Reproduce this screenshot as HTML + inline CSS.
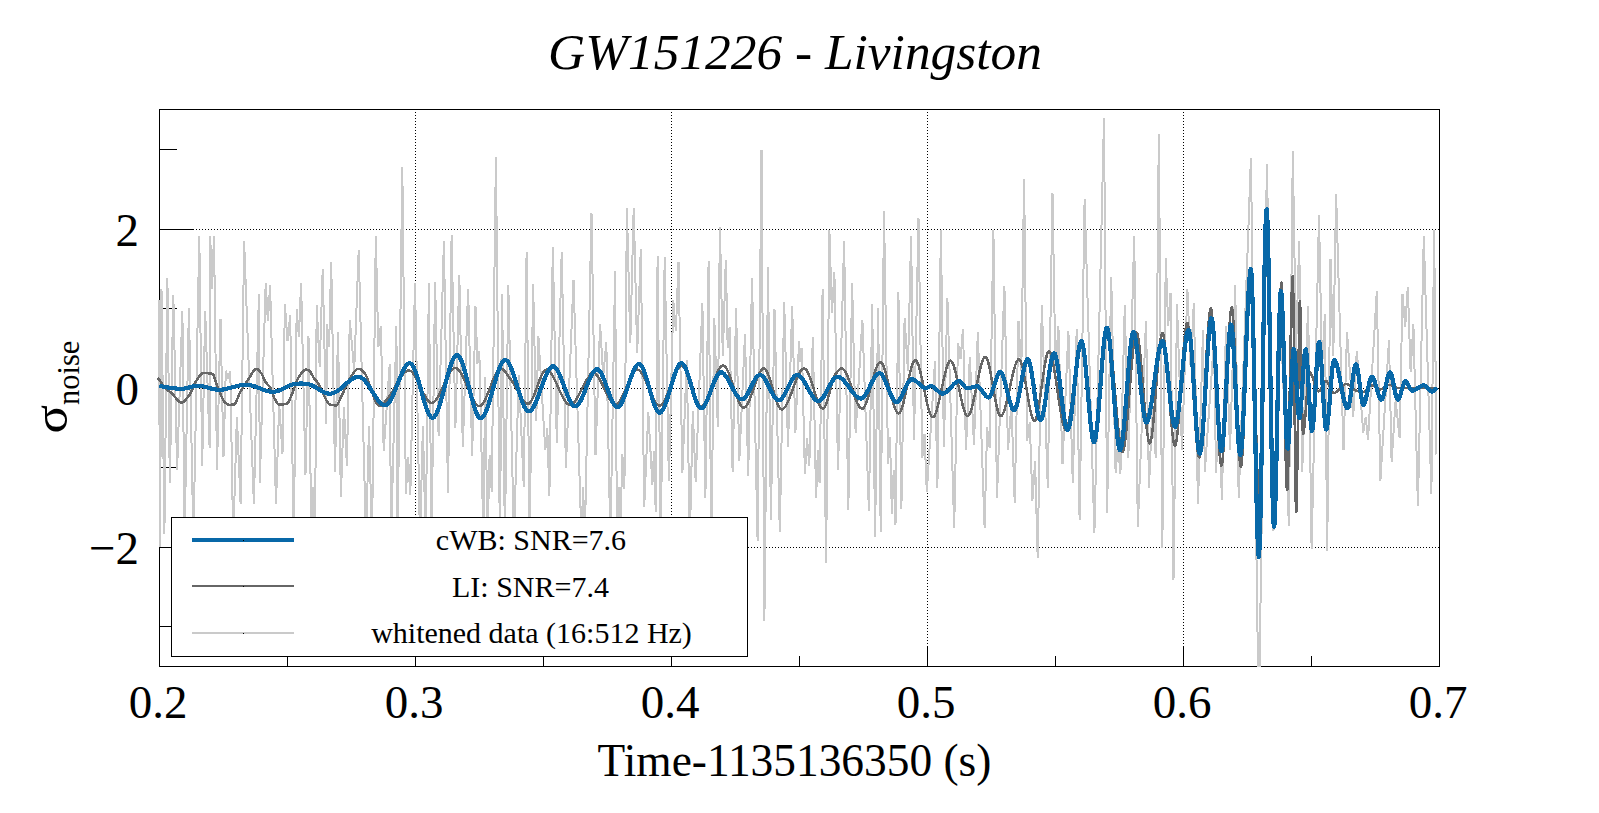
<!DOCTYPE html><html><head><meta charset="utf-8"><title>GW151226 - Livingston</title>
<style>html,body{margin:0;padding:0;background:#fff}svg{display:block}text{font-family:"Liberation Serif",serif;fill:#000}</style></head><body>
<svg width="1599" height="813" viewBox="0 0 1599 813">
<rect width="1599" height="813" fill="#fff"/>
<rect x="159.5" y="109.5" width="1280" height="557" fill="none" stroke="#000" stroke-width="1" shape-rendering="crispEdges"/>
<path d="M159.5,666v-20M415.5,666v-20M671.5,666v-20M927.5,666v-20M1183.5,666v-20M1439.5,666v-20M287.5,666v-10M543.5,666v-10M799.5,666v-10M1055.5,666v-10M1311.5,666v-10M159,547.5h34M159,388.5h34M159,229.5h34M159,626.5h18M159,467.5h18M159,308.5h18M159,149.5h18" stroke="#000" stroke-width="1" fill="none" shape-rendering="crispEdges"/>
<path d="M415.5,112V666M671.5,112V666M927.5,112V666M1183.5,112V666M193,547.5H1439M193,388.5H1439M193,229.5H1439" stroke="#000" stroke-width="1" stroke-dasharray="1 2" fill="none" shape-rendering="crispEdges"/>
<polyline points="159.0,300.0 160.0,546.9 161.5,288.7 164.4,533.6 167.4,278.4 169.8,483.4 173.3,294.6 177.1,470.0 182.4,310.9 184.5,540.0 188.9,307.9 193.4,540.0 199.3,236.2 202.2,465.7 205.2,310.9 209.6,448.0 210.2,236.2 212.1,289.3 214.0,235.6 217.0,470.0 220.5,318.8 223.5,456.8 225.8,370.8 228.1,377.2 230.3,371.4 233.2,540.0 236.9,417.0 240.6,504.0 244.1,241.5 253.9,504.0 258.9,294.0 259.8,483.4 265.7,283.4 267.9,321.2 270.1,285.2 276.0,504.0 279.2,404.5 282.5,453.9 284.9,304.1 287.5,340.7 290.2,315.3 293.7,540.0 296.7,309.4 298.9,336.9 301.1,282.8 305.5,474.5 308.5,336.5 311.5,540.0 313.2,486.8 315.0,540.0 316.7,305.0 319.7,367.2 322.7,268.7 326.2,424.4 327.1,324.1 329.1,346.5 331.2,261.6 335.0,471.6 338.0,332.4 340.9,496.7 343.9,407.4 346.9,465.7 349.8,319.7 354.2,370.9 358.7,249.8 366.0,540.0 369.0,426.0 372.0,540.0 375.8,235.6 378.3,347.4 380.8,325.6 383.7,450.9 389.7,364.0 391.1,540.0 396.4,326.5 397.6,540.0 402.3,167.1 405.9,493.7 408.1,456.7 410.3,495.2 415.0,282.8 420.0,540.0 422.9,426.0 425.7,540.0 428.9,282.8 431.5,540.0 435.1,281.9 438.6,435.5 443.9,240.9 448.0,493.0 451.6,235.0 455.4,428.0 459.3,275.4 462.8,447.0 468.1,288.7 472.2,456.0 475.5,306.4 477.4,363.8 479.3,350.7 483.4,540.0 485.2,377.3 487.5,540.0 489.6,455.3 491.7,491.5 495.9,157.4 499.9,540.0 502.1,294.0 504.9,540.0 508.3,285.2 513.9,540.0 518.8,374.9 523.8,487.4 526.6,251.8 529.6,540.0 533.1,283.7 536.2,421.4 538.4,336.5 545.3,450.3 547.3,428.5 549.4,495.6 552.8,246.8 556.8,442.9 561.7,251.8 565.9,467.6 573.5,279.9 581.5,540.0 583.1,486.8 584.8,540.0 591.5,212.6 595.5,455.2 600.1,324.1 603.2,376.5 606.3,341.9 610.4,540.0 615.1,271.0 617.0,540.0 618.6,486.8 620.3,540.0 622.3,453.6 624.4,489.0 626.9,208.4 630.3,343.1 633.7,207.6 637.2,353.2 640.8,248.9 644.2,507.2 648.3,412.2 652.4,485.0 654.0,451.1 655.7,512.1 657.6,255.7 660.7,540.0 664.7,256.8 668.9,480.8 673.3,300.5 675.9,331.1 678.5,261.6 682.4,473.0 686.8,360.0 689.8,540.0 692.8,411.5 695.7,482.0 702.4,302.9 705.4,497.6 708.6,260.7 711.3,540.0 714.3,318.2 717.8,427.0 719.9,227.3 722.8,355.9 725.8,259.8 727.7,348.4 729.6,327.0 732.6,471.6 736.1,307.9 739.3,461.0 745.0,334.5 748.2,476.0 752.0,277.8 757.6,541.0 761.5,150.0 764.4,620.7 768.0,267.5 770.9,520.3 774.5,309.4 779.8,532.0 784.2,302.0 788.0,446.5 792.2,306.4 795.4,433.0 799.0,341.3 800.5,361.9 801.9,347.8 804.9,474.0 807.1,438.5 809.3,465.7 812.8,337.4 816.1,497.6 817.9,450.0 819.6,483.4 822.6,288.7 826.1,562.5 829.4,229.7 831.9,312.9 834.4,272.5 838.0,470.0 844.1,240.9 848.3,510.0 852.1,282.8 855.6,433.0 862.4,319.7 868.9,511.4 872.2,304.1 875.1,536.5 878.1,307.9 880.7,532.0 884.0,211.4 888.1,464.0 890.0,437.4 891.9,514.4 893.7,470.2 895.5,524.7 898.4,291.7 901.4,508.5 904.6,318.2 907.9,370.6 911.1,236.5 914.0,440.0 918.5,217.9 922.3,458.3 924.5,433.7 926.8,492.3 935.0,361.0 937.4,487.8 940.9,230.3 943.9,446.5 947.4,297.6 954.2,527.7 958.0,343.3 960.5,358.9 963.0,328.6 966.0,450.0 969.8,356.6 974.0,445.0 977.8,332.4 984.6,527.7 987.1,427.0 989.6,448.0 993.4,230.3 997.0,498.2 1004.4,285.8 1008.0,450.0 1011.4,403.5 1014.7,502.6 1018.5,320.6 1021.3,371.1 1024.1,178.6 1027.1,440.6 1029.8,422.2 1032.4,501.1 1035.1,461.5 1037.7,558.0 1041.8,305.0 1047.8,487.8 1052.5,192.8 1055.5,372.4 1058.4,325.6 1062.5,464.2 1068.4,330.6 1072.8,483.4 1076.7,329.5 1079.6,520.3 1084.6,198.7 1094.4,533.0 1104.0,118.2 1107.1,512.9 1111.2,276.9 1115.6,473.0 1118.0,443.2 1120.4,474.0 1124.8,305.0 1128.3,458.3 1134.2,235.6 1137.8,527.0 1146.0,320.6 1149.0,487.8 1152.4,405.6 1155.8,458.3 1158.8,134.3 1162.3,547.7 1165.8,257.7 1168.2,326.0 1170.5,292.6 1173.5,580.2 1177.0,304.1 1182.0,450.0 1187.4,289.3 1190.6,366.9 1193.8,303.5 1198.0,504.0 1203.0,330.0 1204.8,471.6 1214.0,340.0 1216.0,473.0 1219.0,409.2 1221.9,499.6 1226.0,325.6 1230.0,450.0 1235.2,285.2 1238.7,498.2 1250.9,158.3 1258.0,666.0 1259.6,666.0 1266.9,164.3 1273.5,530.6 1280.0,300.0 1288.9,526.0 1292.8,151.2 1296.0,351.4 1299.2,241.5 1302.2,471.6 1308.1,306.4 1311.6,549.2 1319.0,215.5 1322.0,369.4 1324.9,313.8 1327.2,550.7 1330.5,258.6 1333.3,355.6 1336.1,193.7 1343.5,450.3 1347.0,332.1 1353.2,417.0 1356.8,350.7 1363.3,432.6 1365.7,417.0 1368.0,439.7 1376.8,291.1 1380.4,480.5 1389.0,340.0 1391.6,462.2 1395.6,400.4 1399.6,437.7 1402.5,293.7 1405.2,326.7 1407.8,286.7 1410.6,372.0 1413.4,324.1 1417.9,506.4 1423.8,236.5 1431.4,493.7 1434.1,229.7 1436.5,454.5" fill="none" stroke="#cacaca" stroke-width="2" stroke-linejoin="miter" shape-rendering="crispEdges"/>
<polyline points="157.8,378.0 158.3,378.6 158.8,379.2 159.3,379.8 159.8,380.5 160.3,381.2 160.8,382.0 161.3,382.8 161.8,383.6 162.3,384.3 162.8,385.1 163.3,385.9 163.8,386.6 164.3,387.2 164.8,387.8 165.3,388.3 165.8,388.7 166.3,389.1 166.8,389.5 167.3,389.9 167.8,390.2 168.3,390.6 168.8,390.9 169.3,391.2 169.8,391.6 170.3,391.9 170.8,392.3 171.3,392.8 171.8,393.2 172.3,393.8 172.8,394.3 173.3,394.9 173.8,395.5 174.3,396.2 174.8,396.8 175.3,397.4 175.8,398.1 176.3,398.7 176.8,399.3 177.3,399.9 177.8,400.4 178.3,400.9 178.8,401.4 179.3,401.8 179.8,402.1 180.3,402.3 180.8,402.5 181.3,402.6 181.8,402.6 182.3,402.5 182.8,402.3 183.3,402.0 183.8,401.6 184.3,401.2 184.8,400.7 185.3,400.2 185.8,399.6 186.3,399.0 186.8,398.4 187.3,397.7 187.8,397.1 188.3,396.4 188.8,395.8 189.3,395.1 189.8,394.3 190.3,393.4 190.8,392.5 191.3,391.4 191.8,390.3 192.3,389.2 192.8,388.0 193.3,386.8 193.8,385.7 194.3,384.6 194.8,383.5 195.3,382.5 195.8,381.6 196.3,380.8 196.8,380.1 197.3,379.3 197.8,378.6 198.3,377.8 198.8,377.1 199.3,376.4 199.8,375.7 200.3,375.0 200.8,374.5 201.3,374.0 201.8,373.6 202.3,373.3 202.8,373.1 203.3,373.0 203.8,373.0 204.3,373.0 204.8,373.0 205.3,373.0 205.8,373.1 206.3,373.1 206.8,373.1 207.3,373.1 207.8,373.2 208.3,373.2 208.8,373.3 209.3,373.3 209.8,373.4 210.3,373.5 210.8,373.5 211.3,373.6 211.8,373.7 212.3,373.8 212.8,374.1 213.3,374.8 213.8,375.8 214.3,377.1 214.8,378.5 215.3,380.0 215.8,381.6 216.3,383.2 216.8,384.7 217.3,386.0 217.8,387.2 218.3,388.4 218.8,389.6 219.3,390.9 219.8,392.1 220.3,393.4 220.8,394.7 221.3,395.9 221.8,397.0 222.3,398.1 222.8,399.1 223.3,400.1 223.8,400.9 224.3,401.6 224.8,402.1 225.3,402.6 225.8,403.0 226.3,403.4 226.8,403.7 227.3,404.1 227.8,404.3 228.3,404.6 228.8,404.7 229.3,404.8 229.8,404.8 230.3,404.8 230.8,404.8 231.3,404.7 231.8,404.7 232.3,404.7 232.8,404.6 233.3,404.6 233.8,404.5 234.3,404.4 234.8,404.0 235.3,403.3 235.8,402.5 236.3,401.4 236.8,400.2 237.3,399.0 237.8,397.7 238.3,396.3 238.8,395.1 239.3,393.9 239.8,392.9 240.3,392.0 240.8,391.1 241.3,390.2 241.8,389.4 242.3,388.6 242.8,387.8 243.3,387.0 243.8,386.2 244.3,385.4 244.8,384.6 245.3,383.9 245.8,383.1 246.3,382.4 246.8,381.7 247.3,380.9 247.8,380.2 248.3,379.4 248.8,378.6 249.3,377.8 249.8,376.9 250.3,376.1 250.8,375.2 251.3,374.4 251.8,373.5 252.3,372.7 252.8,372.0 253.3,371.3 253.8,370.6 254.3,370.1 254.8,369.6 255.3,369.2 255.8,369.0 256.3,368.8 256.8,368.8 257.3,369.0 257.8,369.3 258.3,369.7 258.8,370.2 259.3,370.8 259.8,371.4 260.3,372.1 260.8,372.7 261.3,373.4 261.8,374.2 262.3,375.2 262.8,376.3 263.3,377.4 263.8,378.5 264.3,379.6 264.8,380.6 265.3,381.5 265.8,382.3 266.3,382.9 266.8,383.5 267.3,384.1 267.8,384.6 268.3,385.1 268.8,385.7 269.3,386.3 269.8,387.0 270.3,387.8 270.8,388.9 271.3,390.1 271.8,391.4 272.3,392.8 272.8,394.2 273.3,395.6 273.8,396.8 274.3,397.9 274.8,398.9 275.3,399.8 275.8,400.7 276.3,401.7 276.8,402.5 277.3,403.3 277.8,403.9 278.3,404.4 278.8,404.6 279.3,404.6 279.8,404.6 280.3,404.6 280.8,404.6 281.3,404.5 281.8,404.5 282.3,404.4 282.8,404.4 283.3,404.3 283.8,404.3 284.3,404.2 284.8,404.1 285.3,404.0 285.8,404.0 286.3,403.9 286.8,403.7 287.3,403.4 287.8,402.9 288.3,402.2 288.8,401.3 289.3,400.3 289.8,399.2 290.3,398.0 290.8,396.8 291.3,395.5 291.8,394.3 292.3,393.2 292.8,392.1 293.3,390.9 293.8,389.6 294.3,388.2 294.8,386.8 295.3,385.4 295.8,383.9 296.3,382.6 296.8,381.2 297.3,380.0 297.8,378.9 298.3,378.0 298.8,377.2 299.3,376.5 299.8,375.7 300.3,375.0 300.8,374.2 301.3,373.5 301.8,372.9 302.3,372.3 302.8,371.7 303.3,371.2 303.8,370.7 304.3,370.3 304.8,370.0 305.3,369.8 305.8,369.7 306.3,369.7 306.8,369.8 307.3,369.9 307.8,370.0 308.3,370.2 308.8,370.4 309.3,370.7 309.8,371.1 310.3,371.8 310.8,372.6 311.3,373.4 311.8,374.4 312.3,375.3 312.8,376.2 313.3,377.1 313.8,377.8 314.3,378.5 314.8,379.1 315.3,379.7 315.8,380.3 316.3,381.0 316.8,381.6 317.3,382.3 317.8,383.0 318.3,383.8 318.8,384.7 319.3,385.7 319.8,386.7 320.3,387.8 320.8,388.9 321.3,389.9 321.8,391.0 322.3,391.9 322.8,392.9 323.3,393.8 323.8,394.8 324.3,395.9 324.8,396.9 325.3,397.9 325.8,399.0 326.3,399.9 326.8,400.9 327.3,401.7 327.8,402.5 328.3,403.2 328.8,403.8 329.3,404.2 329.8,404.5 330.3,404.6 330.8,404.7 331.3,404.8 331.8,404.9 332.3,405.0 332.8,405.1 333.3,405.1 333.8,405.2 334.3,405.2 334.8,405.3 335.3,405.3 335.8,405.3 336.3,405.3 336.8,405.0 337.3,404.6 337.8,403.9 338.3,403.1 338.8,402.1 339.3,401.0 339.8,399.9 340.3,398.7 340.8,397.6 341.3,396.5 341.8,395.4 342.3,394.4 342.8,393.4 343.3,392.3 343.8,391.2 344.3,390.1 344.8,388.9 345.3,387.8 345.8,386.6 346.3,385.5 346.8,384.3 347.3,383.3 347.8,382.2 348.3,381.2 348.8,380.3 349.3,379.5 349.8,378.7 350.3,377.9 350.8,377.2 351.3,376.4 351.8,375.6 352.3,374.8 352.8,374.1 353.3,373.3 353.8,372.6 354.3,372.0 354.8,371.3 355.3,370.8 355.8,370.3 356.3,369.8 356.8,369.4 357.3,369.1 357.8,368.9 358.3,368.8 358.8,368.8 359.3,368.9 359.8,369.0 360.3,369.2 360.8,369.5 361.3,369.9 361.8,370.2 362.3,370.7 362.8,371.1 363.3,371.6 363.8,372.1 364.3,372.7 364.8,373.2 365.3,374.0 365.8,374.9 366.3,376.0 366.8,377.3 367.3,378.6 367.8,380.0 368.3,381.5 368.8,383.0 369.3,384.4 369.8,385.9 370.3,387.2 370.8,388.5 371.3,389.8 371.8,391.3 372.3,392.7 372.8,394.2 373.3,395.6 373.8,397.1 374.3,398.4 374.8,399.7 375.3,400.8 375.8,401.8 376.3,402.6 376.8,403.2 377.3,403.8 377.8,404.4 378.3,404.9 378.8,405.3 379.3,405.7 379.8,405.9 380.3,406.0 380.8,406.0 381.3,405.8 381.8,405.5 382.3,405.1 382.8,404.6 383.3,404.0 383.8,403.4 384.3,402.8 384.8,402.1 385.3,401.5 385.8,400.9 386.3,400.4 386.8,399.8 387.3,399.2 387.8,398.6 388.3,397.9 388.8,397.2 389.3,396.5 389.8,395.7 390.3,394.9 390.8,394.1 391.3,393.3 391.8,392.5 392.3,391.6 392.8,390.8 393.3,389.9 393.8,389.0 394.3,388.1 394.8,387.2 395.3,386.4 395.8,385.5 396.3,384.6 396.8,383.7 397.3,382.8 397.8,382.0 398.3,381.2 398.8,380.3 399.3,379.5 399.8,378.7 400.3,378.0 400.8,377.2 401.3,376.5 401.8,375.8 402.3,375.2 402.8,374.5 403.3,373.9 403.8,373.4 404.3,372.9 404.8,372.4 405.3,372.0 405.8,371.6 406.3,371.3 406.8,371.0 407.3,370.8 407.8,370.6 408.3,370.5 408.8,370.5 409.3,370.5 409.8,370.6 410.3,370.9 410.8,371.1 411.3,371.5 411.8,371.9 412.3,372.4 412.8,373.0 413.3,373.7 413.8,374.3 414.3,375.1 414.8,375.9 415.3,376.7 415.8,377.6 416.3,378.5 416.8,379.5 417.3,380.5 417.8,381.5 418.3,382.5 418.8,383.5 419.3,384.6 419.8,385.6 420.3,386.7 420.8,387.8 421.3,388.8 421.8,389.9 422.3,390.9 422.8,391.9 423.3,392.9 423.8,393.9 424.3,394.9 424.8,395.8 425.3,396.7 425.8,397.5 426.3,398.3 426.8,399.1 427.3,399.7 427.8,400.4 428.3,401.0 428.8,401.5 429.3,401.9 429.8,402.3 430.3,402.5 430.8,402.8 431.3,402.9 431.8,402.9 432.3,402.8 432.8,402.7 433.3,402.4 433.8,402.1 434.3,401.7 434.8,401.2 435.3,400.7 435.8,400.1 436.3,399.4 436.8,398.7 437.3,397.9 437.8,397.1 438.3,396.2 438.8,395.3 439.3,394.3 439.8,393.4 440.3,392.3 440.8,391.3 441.3,390.2 441.8,389.2 442.3,388.1 442.8,387.0 443.3,385.8 443.8,384.7 444.3,383.6 444.8,382.5 445.3,381.4 445.8,380.3 446.3,379.3 446.8,378.3 447.3,377.2 447.8,376.3 448.3,375.3 448.8,374.4 449.3,373.5 449.8,372.7 450.3,371.9 450.8,371.2 451.3,370.6 451.8,370.0 452.3,369.5 452.8,369.0 453.3,368.6 453.8,368.3 454.3,368.1 454.8,367.9 455.3,367.9 455.8,367.9 456.3,368.1 456.8,368.3 457.3,368.6 457.8,369.0 458.3,369.5 458.8,370.1 459.3,370.7 459.8,371.4 460.3,372.1 460.8,372.9 461.3,373.8 461.8,374.7 462.3,375.6 462.8,376.6 463.3,377.7 463.8,378.7 464.3,379.8 464.8,380.9 465.3,382.1 465.8,383.2 466.3,384.4 466.8,385.6 467.3,386.8 467.8,387.9 468.3,389.1 468.8,390.3 469.3,391.5 469.8,392.6 470.3,393.7 470.8,394.8 471.3,395.9 471.8,397.0 472.3,398.0 472.8,398.9 473.3,399.9 473.8,400.7 474.3,401.6 474.8,402.3 475.3,403.0 475.8,403.7 476.3,404.3 476.8,404.8 477.3,405.2 477.8,405.6 478.3,405.8 478.8,406.0 479.3,406.1 479.8,406.1 480.3,405.9 480.8,405.7 481.3,405.3 481.8,404.9 482.3,404.3 482.8,403.7 483.3,403.0 483.8,402.2 484.3,401.3 484.8,400.3 485.3,399.3 485.8,398.2 486.3,397.1 486.8,396.0 487.3,394.8 487.8,393.5 488.3,392.3 488.8,391.0 489.3,389.7 489.8,388.4 490.3,387.1 490.8,385.7 491.3,384.4 491.8,383.2 492.3,381.9 492.8,380.6 493.3,379.4 493.8,378.2 494.3,377.1 494.8,376.0 495.3,375.0 495.8,374.0 496.3,373.1 496.8,372.3 497.3,371.5 497.8,370.8 498.3,370.2 498.8,369.7 499.3,369.3 499.8,369.0 500.3,368.9 500.8,368.8 501.3,368.8 501.8,369.0 502.3,369.2 502.8,369.5 503.3,369.9 503.8,370.4 504.3,370.9 504.8,371.4 505.3,372.0 505.8,372.6 506.3,373.3 506.8,374.0 507.3,374.7 507.8,375.4 508.3,376.1 508.8,376.8 509.3,377.5 509.8,378.1 510.3,378.8 510.8,379.4 511.3,380.0 511.8,380.7 512.3,381.5 512.8,382.2 513.3,383.1 513.8,383.9 514.3,384.8 514.8,385.7 515.3,386.6 515.8,387.5 516.3,388.5 516.8,389.4 517.3,390.3 517.8,391.3 518.3,392.2 518.8,393.2 519.3,394.1 519.8,395.0 520.3,395.9 520.8,396.7 521.3,397.6 521.8,398.4 522.3,399.1 522.8,399.8 523.3,400.5 523.8,401.1 524.3,401.7 524.8,402.2 525.3,402.6 525.8,403.0 526.3,403.3 526.8,403.6 527.3,403.7 527.8,403.8 528.3,403.8 528.8,403.6 529.3,403.3 529.8,402.9 530.3,402.3 530.8,401.6 531.3,400.9 531.8,400.0 532.3,399.0 532.8,398.0 533.3,396.9 533.8,395.7 534.3,394.5 534.8,393.2 535.3,391.9 535.8,390.5 536.3,389.1 536.8,387.7 537.3,386.3 537.8,384.9 538.3,383.6 538.8,382.2 539.3,380.9 539.8,379.6 540.3,378.3 540.8,377.1 541.3,375.9 541.8,374.9 542.3,373.9 542.8,373.0 543.3,372.1 543.8,371.4 544.3,370.8 544.8,370.3 545.3,370.0 545.8,369.8 546.3,369.7 546.8,369.7 547.3,369.9 547.8,370.1 548.3,370.4 548.8,370.8 549.3,371.3 549.8,371.8 550.3,372.4 550.8,373.0 551.3,373.8 551.8,374.5 552.3,375.3 552.8,376.2 553.3,377.1 553.8,378.1 554.3,379.1 554.8,380.1 555.3,381.1 555.8,382.2 556.3,383.3 556.8,384.3 557.3,385.5 557.8,386.6 558.3,387.7 558.8,388.8 559.3,389.9 559.8,391.0 560.3,392.1 560.8,393.2 561.3,394.2 561.8,395.2 562.3,396.2 562.8,397.2 563.3,398.1 563.8,399.0 564.3,399.9 564.8,400.6 565.3,401.4 565.8,402.1 566.3,402.7 566.8,403.2 567.3,403.7 567.8,404.1 568.3,404.5 568.8,404.7 569.3,404.9 569.8,405.0 570.3,405.0 570.8,404.9 571.3,404.7 571.8,404.5 572.3,404.1 572.8,403.7 573.3,403.3 573.8,402.7 574.3,402.1 574.8,401.5 575.3,400.8 575.8,400.1 576.3,399.3 576.8,398.5 577.3,397.6 577.8,396.7 578.3,395.8 578.8,394.8 579.3,393.9 579.8,392.9 580.3,391.9 580.8,390.9 581.3,389.9 581.8,388.9 582.3,387.9 582.8,386.9 583.3,385.9 583.8,385.0 584.3,384.0 584.8,383.1 585.3,382.2 585.8,381.3 586.3,380.5 586.8,379.7 587.3,379.0 587.8,378.3 588.3,377.6 588.8,376.8 589.3,376.0 589.8,375.2 590.3,374.5 590.8,373.7 591.3,373.1 591.8,372.7 592.3,372.4 592.8,372.3 593.3,372.4 593.8,372.5 594.3,372.8 594.8,373.1 595.3,373.5 595.8,373.9 596.3,374.5 596.8,375.1 597.3,375.7 597.8,376.4 598.3,377.2 598.8,378.0 599.3,378.9 599.8,379.8 600.3,380.7 600.8,381.7 601.3,382.7 601.8,383.7 602.3,384.7 602.8,385.7 603.3,386.8 603.8,387.9 604.3,388.9 604.8,390.0 605.3,391.0 605.8,392.1 606.3,393.1 606.8,394.1 607.3,395.1 607.8,396.1 608.3,397.0 608.8,398.0 609.3,398.8 609.8,399.6 610.3,400.4 610.8,401.1 611.3,401.8 611.8,402.4 612.3,403.0 612.8,403.4 613.3,403.9 613.8,404.2 614.3,404.4 614.8,404.6 615.3,404.7 615.8,404.7 616.3,404.6 616.8,404.3 617.3,404.0 617.8,403.6 618.3,403.1 618.8,402.6 619.3,401.9 619.8,401.2 620.3,400.4 620.8,399.5 621.3,398.6 621.8,397.7 622.3,396.7 622.8,395.6 623.3,394.5 623.8,393.4 624.3,392.3 624.8,391.1 625.3,389.9 625.8,388.8 626.3,387.6 626.8,386.4 627.3,385.2 627.8,384.0 628.3,382.8 628.8,381.7 629.3,380.5 629.8,379.4 630.3,378.4 630.8,377.3 631.3,376.3 631.8,375.4 632.3,374.5 632.8,373.7 633.3,372.9 633.8,372.2 634.3,371.6 634.8,371.1 635.3,370.6 635.8,370.2 636.3,370.0 636.8,369.8 637.3,369.7 637.8,369.7 638.3,369.9 638.8,370.1 639.3,370.4 639.8,370.9 640.3,371.4 640.8,372.0 641.3,372.6 641.8,373.4 642.3,374.2 642.8,375.0 643.3,376.0 643.8,376.9 644.3,377.9 644.8,379.0 645.3,380.1 645.8,381.2 646.3,382.4 646.8,383.6 647.3,384.8 647.8,386.0 648.3,387.2 648.8,388.4 649.3,389.6 649.8,390.8 650.3,392.0 650.8,393.1 651.3,394.3 651.8,395.4 652.3,396.5 652.8,397.6 653.3,398.6 653.8,399.5 654.3,400.4 654.8,401.3 655.3,402.1 655.8,402.8 656.3,403.5 656.8,404.0 657.3,404.5 657.8,404.9 658.3,405.2 658.8,405.5 659.3,405.6 659.8,405.6 660.3,405.5 660.8,405.3 661.3,404.9 661.8,404.5 662.3,404.0 662.8,403.3 663.3,402.6 663.8,401.8 664.3,400.9 664.8,400.0 665.3,399.0 665.8,397.9 666.3,396.8 666.8,395.6 667.3,394.4 667.8,393.2 668.3,391.9 668.8,390.6 669.3,389.3 669.8,387.9 670.3,386.6 670.8,385.2 671.3,383.9 671.8,382.5 672.3,381.2 672.8,379.9 673.3,378.6 673.8,377.4 674.3,376.2 674.8,375.0 675.3,373.9 675.8,372.8 676.3,371.8 676.8,370.9 677.3,370.0 677.8,369.2 678.3,368.5 678.8,367.8 679.3,367.3 679.8,366.9 680.3,366.5 680.8,366.3 681.3,366.2 681.8,366.2 682.3,366.4 682.8,366.7 683.3,367.2 683.8,367.7 684.3,368.4 684.8,369.2 685.3,370.1 685.8,371.2 686.3,372.2 686.8,373.4 687.3,374.7 687.8,376.0 688.3,377.3 688.8,378.8 689.3,380.2 689.8,381.7 690.3,383.2 690.8,384.7 691.3,386.3 691.8,387.8 692.3,389.3 692.8,390.8 693.3,392.3 693.8,393.7 694.3,395.1 694.8,396.5 695.3,397.8 695.8,399.0 696.3,400.2 696.8,401.3 697.3,402.2 697.8,403.1 698.3,403.9 698.8,404.6 699.3,405.1 699.8,405.6 700.3,405.8 700.8,406.0 701.3,406.0 701.8,405.8 702.3,405.6 702.8,405.2 703.3,404.8 703.8,404.2 704.3,403.6 704.8,402.9 705.3,402.0 705.8,401.2 706.3,400.2 706.8,399.2 707.3,398.1 707.8,397.0 708.3,395.8 708.8,394.5 709.3,393.3 709.8,392.0 710.3,390.7 710.8,389.3 711.3,388.0 711.8,386.6 712.3,385.3 712.8,383.9 713.3,382.5 713.8,381.2 714.3,379.9 714.8,378.6 715.3,377.3 715.8,376.1 716.3,374.9 716.8,373.7 717.3,372.6 717.8,371.6 718.3,370.6 718.8,369.7 719.3,368.9 719.8,368.2 720.3,367.5 720.8,366.9 721.3,366.4 721.8,366.1 722.3,365.8 722.8,365.6 723.3,365.6 723.8,365.7 724.3,366.0 724.8,366.3 725.3,366.8 725.8,367.5 726.3,368.2 726.8,369.0 727.3,370.0 727.8,371.0 728.3,372.1 728.8,373.3 729.3,374.6 729.8,375.9 730.3,377.3 730.8,378.7 731.3,380.1 731.8,381.6 732.3,383.1 732.8,384.7 733.3,386.2 733.8,387.7 734.3,389.3 734.8,390.8 735.3,392.3 735.8,393.8 736.3,395.2 736.8,396.6 737.3,398.0 737.8,399.2 738.3,400.5 738.8,401.6 739.3,402.7 739.8,403.7 740.3,404.6 740.8,405.4 741.3,406.1 741.8,406.7 742.3,407.1 742.8,407.5 743.3,407.7 743.8,407.7 744.3,407.6 744.8,407.4 745.3,407.0 745.8,406.5 746.3,405.9 746.8,405.2 747.3,404.4 747.8,403.5 748.3,402.5 748.8,401.4 749.3,400.2 749.8,399.0 750.3,397.8 750.8,396.5 751.3,395.1 751.8,393.7 752.3,392.3 752.8,390.8 753.3,389.4 753.8,387.9 754.3,386.4 754.8,385.0 755.3,383.5 755.8,382.1 756.3,380.7 756.8,379.4 757.3,378.1 757.8,376.8 758.3,375.6 758.8,374.5 759.3,373.4 759.8,372.4 760.3,371.6 760.8,370.8 761.3,370.1 761.8,369.5 762.3,369.0 762.8,368.7 763.3,368.5 763.8,368.4 764.3,368.5 764.8,368.8 765.3,369.2 765.8,369.8 766.3,370.6 766.8,371.5 767.3,372.5 767.8,373.6 768.3,374.9 768.8,376.2 769.3,377.6 769.8,379.1 770.3,380.7 770.8,382.3 771.3,384.0 771.8,385.6 772.3,387.4 772.8,389.1 773.3,390.8 773.8,392.5 774.3,394.2 774.8,395.8 775.3,397.4 775.8,399.0 776.3,400.5 776.8,401.9 777.3,403.2 777.8,404.4 778.3,405.5 778.8,406.5 779.3,407.4 779.8,408.1 780.3,408.7 780.8,409.1 781.3,409.3 781.8,409.4 782.3,409.3 782.8,409.1 783.3,408.8 783.8,408.4 784.3,407.9 784.8,407.3 785.3,406.6 785.8,405.8 786.3,404.9 786.8,404.0 787.3,403.0 787.8,401.9 788.3,400.8 788.8,399.7 789.3,398.4 789.8,397.2 790.3,395.9 790.8,394.6 791.3,393.3 791.8,391.9 792.3,390.5 792.8,389.2 793.3,387.8 793.8,386.4 794.3,385.1 794.8,383.7 795.3,382.4 795.8,381.1 796.3,379.9 796.8,378.6 797.3,377.4 797.8,376.3 798.3,375.2 798.8,374.2 799.3,373.2 799.8,372.4 800.3,371.5 800.8,370.8 801.3,370.2 801.8,369.6 802.3,369.2 802.8,368.8 803.3,368.6 803.8,368.4 804.3,368.4 804.8,368.6 805.3,368.9 805.8,369.3 806.3,369.9 806.8,370.6 807.3,371.5 807.8,372.4 808.3,373.5 808.8,374.6 809.3,375.9 809.8,377.2 810.3,378.6 810.8,380.0 811.3,381.5 811.8,383.0 812.3,384.6 812.8,386.2 813.3,387.8 813.8,389.3 814.3,390.9 814.8,392.5 815.3,394.1 815.8,395.6 816.3,397.1 816.8,398.5 817.3,399.9 817.8,401.2 818.3,402.5 818.8,403.6 819.3,404.7 819.8,405.6 820.3,406.5 820.8,407.2 821.3,407.8 821.8,408.2 822.3,408.5 822.8,408.7 823.3,408.7 823.8,408.4 824.3,407.8 824.8,407.1 825.3,406.1 825.8,405.0 826.3,403.6 826.8,402.2 827.3,400.6 827.8,398.9 828.3,397.1 828.8,395.3 829.3,393.4 829.8,391.5 830.3,389.6 830.8,387.7 831.3,385.8 831.8,384.0 832.3,382.2 832.8,380.6 833.3,379.0 833.8,377.6 834.3,376.4 834.8,375.3 835.3,374.4 835.8,373.7 836.3,373.1 836.8,372.4 837.3,371.8 837.8,371.2 838.3,370.6 838.8,370.1 839.3,369.6 839.8,369.2 840.3,368.8 840.8,368.6 841.3,368.4 841.8,368.4 842.3,368.5 842.8,368.7 843.3,369.1 843.8,369.6 844.3,370.2 844.8,370.9 845.3,371.7 845.8,372.6 846.3,373.6 846.8,374.6 847.3,375.8 847.8,377.0 848.3,378.2 848.8,379.6 849.3,380.9 849.8,382.3 850.3,383.7 850.8,385.2 851.3,386.6 851.8,388.1 852.3,389.6 852.8,391.1 853.3,392.5 853.8,393.9 854.3,395.4 854.8,396.7 855.3,398.1 855.8,399.4 856.3,400.6 856.8,401.8 857.3,402.9 857.8,403.9 858.3,404.9 858.8,405.7 859.3,406.5 859.8,407.2 860.3,407.7 860.8,408.2 861.3,408.5 861.8,408.7 862.3,408.7 862.8,408.5 863.3,408.2 863.8,407.7 864.3,407.0 864.8,406.1 865.3,405.1 865.8,403.9 866.3,402.6 866.8,401.2 867.3,399.7 867.8,398.1 868.3,396.4 868.8,394.6 869.3,392.8 869.8,391.0 870.3,389.1 870.8,387.1 871.3,385.2 871.8,383.3 872.3,381.4 872.8,379.5 873.3,377.6 873.8,375.8 874.3,374.1 874.8,372.4 875.3,370.8 875.8,369.3 876.3,367.9 876.8,366.7 877.3,365.5 877.8,364.5 878.3,363.7 878.8,363.0 879.3,362.5 879.8,362.2 880.3,362.1 880.8,362.2 881.3,362.5 881.8,363.1 882.3,363.8 882.8,364.7 883.3,365.8 883.8,367.0 884.3,368.4 884.8,369.9 885.3,371.5 885.8,373.2 886.3,375.0 886.8,376.9 887.3,378.9 887.8,380.9 888.3,382.9 888.8,385.0 889.3,387.1 889.8,389.2 890.3,391.3 890.8,393.4 891.3,395.4 891.8,397.4 892.3,399.3 892.8,401.2 893.3,403.0 893.8,404.7 894.3,406.2 894.8,407.7 895.3,409.0 895.8,410.2 896.3,411.2 896.8,412.0 897.3,412.7 897.8,413.1 898.3,413.4 898.8,413.4 899.3,413.1 899.8,412.6 900.3,411.9 900.8,410.9 901.3,409.7 901.8,408.3 902.3,406.7 902.8,405.0 903.3,403.2 903.8,401.2 904.3,399.1 904.8,396.9 905.3,394.7 905.8,392.3 906.3,390.0 906.8,387.6 907.3,385.2 907.8,382.9 908.3,380.5 908.8,378.2 909.3,376.0 909.8,373.9 910.3,371.8 910.8,369.9 911.3,368.1 911.8,366.4 912.3,364.9 912.8,363.6 913.3,362.5 913.8,361.6 914.3,360.9 914.8,360.5 915.3,360.4 915.8,360.5 916.3,360.9 916.8,361.6 917.3,362.5 917.8,363.5 918.3,364.8 918.8,366.3 919.3,367.9 919.8,369.7 920.3,371.7 920.8,373.7 921.3,375.9 921.8,378.1 922.3,380.4 922.8,382.8 923.3,385.2 923.8,387.6 924.3,390.0 924.8,392.4 925.3,394.8 925.8,397.2 926.3,399.5 926.8,401.7 927.3,403.9 927.8,405.9 928.3,407.9 928.8,409.7 929.3,411.3 929.8,412.8 930.3,414.1 930.8,415.1 931.3,416.0 931.8,416.7 932.3,417.1 932.8,417.2 933.3,417.1 933.8,416.7 934.3,416.1 934.8,415.2 935.3,414.1 935.8,412.9 936.3,411.4 936.8,409.8 937.3,408.1 937.8,406.2 938.3,404.2 938.8,402.1 939.3,399.9 939.8,397.7 940.3,395.4 940.8,393.0 941.3,390.6 941.8,388.2 942.3,385.8 942.8,383.5 943.3,381.1 943.8,378.9 944.3,376.6 944.8,374.5 945.3,372.5 945.8,370.5 946.3,368.7 946.8,367.1 947.3,365.6 947.8,364.2 948.3,363.1 948.8,362.2 949.3,361.4 949.8,361.0 950.3,360.7 950.8,360.8 951.3,361.1 951.8,361.6 952.3,362.4 952.8,363.4 953.3,364.7 953.8,366.1 954.3,367.7 954.8,369.5 955.3,371.4 955.8,373.4 956.3,375.5 956.8,377.7 957.3,380.0 957.8,382.4 958.3,384.8 958.8,387.2 959.3,389.7 959.8,392.1 960.3,394.5 960.8,396.9 961.3,399.2 961.8,401.4 962.3,403.5 962.8,405.5 963.3,407.4 963.8,409.2 964.3,410.8 964.8,412.2 965.3,413.5 965.8,414.5 966.3,415.3 966.8,415.8 967.3,416.1 967.8,416.2 968.3,415.9 968.8,415.4 969.3,414.7 969.8,413.7 970.3,412.5 970.8,411.1 971.3,409.5 971.8,407.8 972.3,405.9 972.8,403.8 973.3,401.7 973.8,399.4 974.3,397.1 974.8,394.7 975.3,392.3 975.8,389.8 976.3,387.3 976.8,384.7 977.3,382.2 977.8,379.8 978.3,377.3 978.8,374.9 979.3,372.6 979.8,370.4 980.3,368.3 980.8,366.4 981.3,364.5 981.8,362.8 982.3,361.3 982.8,360.0 983.3,358.9 983.8,358.0 984.3,357.3 984.8,356.9 985.3,356.8 985.8,357.0 986.3,357.5 986.8,358.4 987.3,359.5 987.8,361.0 988.3,362.7 988.8,364.6 989.3,366.7 989.8,369.1 990.3,371.5 990.8,374.1 991.3,376.8 991.8,379.6 992.3,382.5 992.8,385.3 993.3,388.2 993.8,391.1 994.3,393.9 994.8,396.7 995.3,399.4 995.8,402.0 996.3,404.4 996.8,406.7 997.3,408.8 997.8,410.7 998.3,412.3 998.8,413.7 999.3,414.8 999.8,415.6 1000.3,416.1 1000.8,416.2 1001.3,416.0 1001.8,415.6 1002.3,415.0 1002.8,414.1 1003.3,413.1 1003.8,411.8 1004.3,410.5 1004.8,408.9 1005.3,407.2 1005.8,405.4 1006.3,403.5 1006.8,401.4 1007.3,399.3 1007.8,397.1 1008.3,394.9 1008.8,392.6 1009.3,390.3 1009.8,387.9 1010.3,385.6 1010.8,383.3 1011.3,381.0 1011.8,378.7 1012.3,376.5 1012.8,374.4 1013.3,372.3 1013.8,370.4 1014.3,368.5 1014.8,366.8 1015.3,365.2 1015.8,363.8 1016.3,362.6 1016.8,361.5 1017.3,360.6 1017.8,359.9 1018.3,359.4 1018.8,359.2 1019.3,359.3 1019.8,359.7 1020.3,360.4 1020.8,361.5 1021.3,362.9 1021.8,364.5 1022.3,366.4 1022.8,368.5 1023.3,370.8 1023.8,373.3 1024.3,376.0 1024.8,378.7 1025.3,381.6 1025.8,384.5 1026.3,387.5 1026.8,390.4 1027.3,393.4 1027.8,396.4 1028.3,399.3 1028.8,402.1 1029.3,404.9 1029.8,407.5 1030.3,409.9 1030.8,412.2 1031.3,414.3 1031.8,416.1 1032.3,417.7 1032.8,419.0 1033.3,420.0 1033.8,420.7 1034.3,421.1 1034.8,421.0 1035.3,420.5 1035.8,419.5 1036.3,418.1 1036.8,416.3 1037.3,414.2 1037.8,411.8 1038.3,409.1 1038.8,406.1 1039.3,403.0 1039.8,399.7 1040.3,396.3 1040.8,392.7 1041.3,389.1 1041.8,385.5 1042.3,381.8 1042.8,378.3 1043.3,374.8 1043.8,371.4 1044.3,368.1 1044.8,365.1 1045.3,362.2 1045.8,359.6 1046.3,357.3 1046.8,355.3 1047.3,353.7 1047.8,352.5 1048.3,351.7 1048.8,351.3 1049.3,351.4 1049.8,351.9 1050.3,352.8 1050.8,354.0 1051.3,355.5 1051.8,357.3 1052.3,359.4 1052.8,361.7 1053.3,364.3 1053.8,367.0 1054.3,369.9 1054.8,372.9 1055.3,376.1 1055.8,379.4 1056.3,382.8 1056.8,386.2 1057.3,389.6 1057.8,393.1 1058.3,396.5 1058.8,399.9 1059.3,403.2 1059.8,406.5 1060.3,409.6 1060.8,412.6 1061.3,415.4 1061.8,418.1 1062.3,420.5 1062.8,422.8 1063.3,424.7 1063.8,426.4 1064.3,427.8 1064.8,428.9 1065.3,429.6 1065.8,430.0 1066.3,429.9 1066.8,429.3 1067.3,428.2 1067.8,426.6 1068.3,424.6 1068.8,422.1 1069.3,419.3 1069.8,416.2 1070.3,412.9 1070.8,409.2 1071.3,405.4 1071.8,401.4 1072.3,397.2 1072.8,393.0 1073.3,388.7 1073.8,384.4 1074.3,380.1 1074.8,375.9 1075.3,371.8 1075.8,367.8 1076.3,364.0 1076.8,360.5 1077.3,357.1 1077.8,354.1 1078.3,351.4 1078.8,349.0 1079.3,347.1 1079.8,345.6 1080.3,344.5 1080.8,344.0 1081.3,344.1 1081.8,345.0 1082.3,346.6 1082.8,348.8 1083.3,351.6 1083.8,355.0 1084.3,358.8 1084.8,363.0 1085.3,367.6 1085.8,372.5 1086.3,377.6 1086.8,382.8 1087.3,388.2 1087.8,393.6 1088.3,399.0 1088.8,404.3 1089.3,409.5 1089.8,414.5 1090.3,419.2 1090.8,423.6 1091.3,427.6 1091.8,431.1 1092.3,434.1 1092.8,436.6 1093.3,438.5 1093.8,439.6 1094.3,440.0 1094.8,439.5 1095.3,438.2 1095.8,436.1 1096.3,433.3 1096.8,429.8 1097.3,425.7 1097.8,421.1 1098.3,416.0 1098.8,410.6 1099.3,404.9 1099.8,399.0 1100.3,392.9 1100.8,386.7 1101.3,380.6 1101.8,374.4 1102.3,368.4 1102.8,362.6 1103.3,357.1 1103.8,351.9 1104.3,347.1 1104.8,342.8 1105.3,339.1 1105.8,336.0 1106.3,333.5 1106.8,331.9 1107.3,331.1 1107.8,331.1 1108.3,332.0 1108.8,333.6 1109.3,335.8 1109.8,338.7 1110.3,342.1 1110.8,346.0 1111.3,350.4 1111.8,355.1 1112.3,360.2 1112.8,365.6 1113.3,371.3 1113.8,377.1 1114.3,383.1 1114.8,389.1 1115.3,395.1 1115.8,401.1 1116.3,407.1 1116.8,412.9 1117.3,418.5 1117.8,423.8 1118.3,428.9 1118.8,433.5 1119.3,437.8 1119.8,441.7 1120.3,445.0 1120.8,447.7 1121.3,449.8 1121.8,451.2 1122.3,451.9 1122.8,451.8 1123.3,450.9 1123.8,449.1 1124.3,446.6 1124.8,443.4 1125.3,439.6 1125.8,435.2 1126.3,430.4 1126.8,425.1 1127.3,419.5 1127.8,413.6 1128.3,407.5 1128.8,401.2 1129.3,394.9 1129.8,388.5 1130.3,382.1 1130.8,375.9 1131.3,369.8 1131.8,363.9 1132.3,358.4 1132.8,353.2 1133.3,348.5 1133.8,344.2 1134.3,340.5 1134.8,337.5 1135.3,335.1 1135.8,333.5 1136.3,332.7 1136.8,332.8 1137.3,333.8 1137.8,335.6 1138.3,338.1 1138.8,341.4 1139.3,345.3 1139.8,349.7 1140.3,354.6 1140.8,359.9 1141.3,365.5 1141.8,371.4 1142.3,377.4 1142.8,383.6 1143.3,389.9 1143.8,396.1 1144.3,402.2 1144.8,408.2 1145.3,413.9 1145.8,419.4 1146.3,424.4 1146.8,429.0 1147.3,433.1 1147.8,436.6 1148.3,439.5 1148.8,441.6 1149.3,442.9 1149.8,443.4 1150.3,442.9 1150.8,441.4 1151.3,439.1 1151.8,436.0 1152.3,432.1 1152.8,427.6 1153.3,422.6 1153.8,417.1 1154.3,411.3 1154.8,405.1 1155.3,398.7 1155.8,392.2 1156.3,385.7 1156.8,379.2 1157.3,372.7 1157.8,366.5 1158.3,360.6 1158.8,355.0 1159.3,349.9 1159.8,345.3 1160.3,341.4 1160.8,338.1 1161.3,335.6 1161.8,333.9 1162.3,333.2 1162.8,333.5 1163.3,334.8 1163.8,337.1 1164.3,340.1 1164.8,343.9 1165.3,348.3 1165.8,353.4 1166.3,358.9 1166.8,364.8 1167.3,371.0 1167.8,377.5 1168.3,384.1 1168.8,390.8 1169.3,397.5 1169.8,404.0 1170.3,410.4 1170.8,416.5 1171.3,422.3 1171.8,427.6 1172.3,432.4 1172.8,436.6 1173.3,440.1 1173.8,442.8 1174.3,444.7 1174.8,445.6 1175.3,445.5 1175.8,444.2 1176.3,441.8 1176.8,438.5 1177.3,434.2 1177.8,429.3 1178.3,423.6 1178.8,417.4 1179.3,410.7 1179.8,403.6 1180.3,396.3 1180.8,388.8 1181.3,381.2 1181.8,373.7 1182.3,366.4 1182.8,359.2 1183.3,352.4 1183.8,346.1 1184.3,340.3 1184.8,335.2 1185.3,330.8 1185.8,327.3 1186.3,324.7 1186.8,323.2 1187.3,322.8 1187.8,323.8 1188.3,326.0 1188.8,329.3 1189.3,333.7 1189.8,339.0 1190.3,345.1 1190.8,351.9 1191.3,359.2 1191.8,367.0 1192.3,375.1 1192.8,383.4 1193.3,391.8 1193.8,400.2 1194.3,408.4 1194.8,416.4 1195.3,424.0 1195.8,431.1 1196.3,437.6 1196.8,443.4 1197.3,448.3 1197.8,452.3 1198.3,455.2 1198.8,457.0 1199.3,457.4 1199.8,456.2 1200.3,453.6 1200.8,449.7 1201.3,444.5 1201.8,438.3 1202.3,431.1 1202.8,423.2 1203.3,414.7 1203.8,405.7 1204.3,396.3 1204.8,386.7 1205.3,377.1 1205.8,367.5 1206.3,358.2 1206.8,349.3 1207.3,340.8 1207.8,333.1 1208.3,326.1 1208.8,320.1 1209.3,315.1 1209.8,311.4 1210.3,309.1 1210.8,308.3 1211.3,309.3 1211.8,312.2 1212.3,316.9 1212.8,323.0 1213.3,330.5 1213.8,339.0 1214.3,348.5 1214.8,358.7 1215.3,369.4 1215.8,380.5 1216.3,391.6 1216.8,402.7 1217.3,413.5 1217.8,423.8 1218.3,433.4 1218.8,442.2 1219.3,449.9 1219.8,456.3 1220.3,461.3 1220.8,464.5 1221.3,466.0 1221.8,465.3 1222.3,462.6 1222.8,458.0 1223.3,451.8 1223.8,444.1 1224.3,435.3 1224.8,425.5 1225.3,414.9 1225.8,403.8 1226.3,392.3 1226.8,380.8 1227.3,369.3 1227.8,358.2 1228.3,347.6 1228.8,337.8 1229.3,329.0 1229.8,321.3 1230.3,315.1 1230.8,310.5 1231.3,307.8 1231.8,307.2 1232.3,309.1 1232.8,313.6 1233.3,320.2 1233.8,328.7 1234.3,338.8 1234.8,350.2 1235.3,362.4 1235.8,375.3 1236.3,388.5 1236.8,401.6 1237.3,414.4 1237.8,426.5 1238.3,437.6 1238.8,447.4 1239.3,455.6 1239.8,461.8 1240.3,465.8 1240.8,467.2 1241.3,465.8 1241.8,461.9 1242.3,455.7 1242.8,447.6 1243.3,437.7 1243.8,426.4 1244.3,414.0 1244.8,400.6 1245.3,386.7 1245.8,372.5 1246.3,358.3 1246.8,344.3 1247.3,330.8 1247.8,318.2 1248.3,306.7 1248.8,296.5 1249.3,287.9 1249.8,281.3 1250.3,277.0 1250.8,275.1 1251.3,276.5 1251.8,282.4 1252.3,292.0 1252.8,305.0 1253.3,320.6 1253.8,338.2 1254.3,357.3 1254.8,377.3 1255.3,397.7 1255.8,417.7 1256.3,436.8 1256.8,454.4 1257.3,470.0 1257.8,483.0 1258.3,492.6 1258.8,498.5 1259.3,499.9 1259.8,495.6 1260.3,485.8 1260.8,471.4 1261.3,453.3 1261.8,432.2 1262.3,409.1 1262.8,384.9 1263.3,360.2 1263.8,336.1 1264.3,313.4 1264.8,292.8 1265.3,275.4 1265.8,261.8 1266.3,253.1 1266.8,250.0 1267.3,253.0 1267.8,261.6 1268.3,274.8 1268.8,291.8 1269.3,311.9 1269.8,334.3 1270.3,358.0 1270.8,382.3 1271.3,406.4 1271.8,429.3 1272.3,450.4 1272.8,468.8 1273.3,483.7 1273.8,494.2 1274.3,499.5 1274.8,498.8 1275.3,491.9 1275.8,479.7 1276.3,463.3 1276.8,443.6 1277.3,421.6 1277.8,398.3 1278.3,374.8 1278.8,351.9 1279.3,330.7 1279.8,312.2 1280.3,297.3 1280.8,287.1 1281.3,282.6 1281.8,285.4 1282.3,296.4 1282.8,314.0 1283.3,336.5 1283.8,362.1 1284.3,389.3 1284.8,416.3 1285.3,441.4 1285.8,463.1 1286.3,479.5 1286.8,488.9 1287.3,489.8 1287.8,481.4 1288.3,465.2 1288.8,443.2 1289.3,417.2 1289.8,389.0 1290.3,360.3 1290.8,333.2 1291.3,309.4 1291.8,290.7 1292.3,278.9 1292.8,276.4 1293.3,294.3 1293.8,331.3 1294.3,379.1 1294.8,429.4 1295.3,473.8 1295.8,504.2 1296.3,512.3 1296.8,497.9 1297.3,467.7 1297.8,428.2 1298.3,385.5 1298.8,346.0 1299.3,315.8 1299.8,301.4 1300.3,307.0 1300.8,328.0 1301.3,357.8 1301.8,389.6 1302.3,416.7 1302.8,432.4 1303.3,433.6 1303.8,431.4 1304.3,427.6 1304.8,422.4 1305.3,416.3 1305.8,409.5 1306.3,402.4 1306.8,395.4 1307.3,388.7 1307.8,382.8 1308.3,377.8 1308.8,374.3 1309.3,372.5 1309.8,372.4 1310.3,372.7 1310.8,373.4 1311.3,374.3 1311.8,375.5 1312.3,376.8 1312.8,378.3 1313.3,379.8 1313.8,381.4 1314.3,383.0 1314.8,384.6 1315.3,386.1 1315.8,387.5 1316.3,388.8 1316.8,389.9 1317.3,390.7 1317.8,391.2 1318.3,391.5 1318.8,391.4 1319.3,391.1 1319.8,390.5 1320.3,389.8 1320.8,388.9 1321.3,387.9 1321.8,386.9 1322.3,385.8 1322.8,384.8 1323.3,383.8 1323.8,382.9 1324.3,382.1 1324.8,381.5 1325.3,381.1 1325.8,381.0 1326.3,381.1 1326.8,381.5 1327.3,382.1 1327.8,382.8 1328.3,383.7 1328.8,384.7 1329.3,385.8 1329.8,386.9 1330.3,388.0 1330.8,389.1 1331.3,390.1 1331.8,391.0 1332.3,391.8 1332.8,392.4 1333.3,392.8 1333.8,393.0 1334.3,393.0 1334.8,392.9 1335.3,392.7 1335.8,392.4 1336.3,392.1 1336.8,391.8 1337.3,391.4 1337.8,390.9 1338.3,390.4 1338.8,389.9 1339.3,389.4 1339.8,388.9 1340.3,388.3 1340.8,387.8 1341.3,387.3 1341.8,386.8 1342.3,386.3 1342.8,385.8 1343.3,385.4 1343.8,385.0 1344.3,384.7 1344.8,384.4 1345.3,384.2 1345.8,384.1 1346.3,384.0 1346.8,384.0 1347.3,384.1 1347.8,384.3 1348.3,384.6 1348.8,384.9 1349.3,385.3 1349.8,385.7 1350.3,386.2 1350.8,386.6 1351.3,387.1 1351.8,387.6 1352.3,388.1 1352.8,388.5 1353.3,388.9 1353.8,389.3 1354.3,389.6 1354.8,389.9 1355.3,390.1 1355.8,390.3 1356.3,390.6 1356.8,390.8 1357.3,391.0 1357.8,391.2 1358.3,391.4 1358.8,391.5 1359.3,391.7 1359.8,391.9 1360.3,392.0 1360.8,392.1 1361.3,392.2 1361.8,392.3 1362.3,392.3 1362.8,392.3 1363.3,392.2 1363.8,392.0 1364.3,391.7 1364.8,391.3 1365.3,390.8 1365.8,390.3 1366.3,389.8 1366.8,389.2 1367.3,388.7 1367.8,388.1 1368.3,387.6 1368.8,387.1 1369.3,386.6 1369.8,386.2 1370.3,385.9 1370.8,385.7 1371.3,385.6 1371.8,385.6 1372.3,385.7 1372.8,385.8 1373.3,386.0 1373.8,386.2 1374.3,386.5 1374.8,386.8 1375.3,387.1 1375.8,387.4 1376.3,387.7 1376.8,388.0 1377.3,388.3 1377.8,388.6 1378.3,388.8 1378.8,389.0 1379.3,389.2 1379.8,389.3 1380.3,389.3 1380.8,389.3 1381.3,389.1 1381.8,389.0 1382.3,388.7 1382.8,388.4 1383.3,388.1 1383.8,387.8 1384.3,387.4 1384.8,387.0 1385.3,386.6 1385.8,386.3 1386.3,385.9 1386.8,385.6 1387.3,385.3 1387.8,385.1 1388.3,384.9 1388.8,384.8 1389.3,384.8 1389.8,384.8 1390.3,384.9 1390.8,385.1 1391.3,385.3 1391.8,385.5 1392.3,385.7 1392.8,386.0 1393.3,386.2 1393.8,386.5 1394.3,386.8 1394.8,387.0 1395.3,387.3 1395.8,387.5 1396.3,387.7 1396.8,387.8 1397.3,387.9 1397.8,388.0 1398.3,388.0 1398.8,388.0 1399.3,388.0 1399.8,388.0 1400.3,388.0 1400.8,388.0 1401.3,388.0 1401.8,388.0 1402.3,388.0 1402.8,388.0 1403.3,388.0 1403.8,388.0 1404.3,388.0 1404.8,388.0 1405.3,388.0 1405.8,388.0 1406.3,388.0 1406.8,388.0 1407.3,388.0 1407.8,388.0 1408.3,388.0 1408.8,388.0 1409.3,388.0 1409.8,388.0 1410.3,388.0 1410.8,388.0 1411.3,388.0 1411.8,388.0 1412.3,388.0 1412.8,388.0 1413.3,388.0 1413.8,388.0 1414.3,388.0 1414.8,388.0 1415.3,388.0 1415.8,388.0 1416.3,388.0 1416.8,388.0 1417.3,388.0 1417.8,388.0 1418.3,388.0 1418.8,388.0 1419.3,388.0 1419.8,388.0 1420.3,388.0 1420.8,388.0 1421.3,388.0 1421.8,388.0 1422.3,388.0 1422.8,388.0 1423.3,388.0 1423.8,388.0 1424.3,388.0 1424.8,388.0 1425.3,388.0 1425.8,388.0 1426.3,388.0 1426.8,388.0 1427.3,388.0 1427.8,388.0 1428.3,388.0 1428.8,388.0 1429.3,388.0 1429.8,388.0 1430.3,388.0 1430.8,388.0 1431.3,388.0 1431.8,388.0 1432.3,388.0 1432.8,388.0 1433.3,388.0 1433.8,388.0 1434.3,388.0 1434.8,388.0 1435.3,388.0 1435.8,388.0 1436.3,388.0 1436.8,388.0" fill="none" stroke="#666" stroke-width="2.5" stroke-linejoin="round" shape-rendering="crispEdges"/>
<polyline points="159.3,385.8 159.8,385.9 160.3,386.0 160.8,386.1 161.3,386.2 161.8,386.4 162.3,386.5 162.8,386.6 163.3,386.7 163.8,386.8 164.3,386.9 164.8,387.0 165.3,387.1 165.8,387.1 166.3,387.2 166.8,387.3 167.3,387.4 167.8,387.5 168.3,387.5 168.8,387.6 169.3,387.7 169.8,387.7 170.3,387.8 170.8,387.9 171.3,387.9 171.8,388.0 172.3,388.1 172.8,388.1 173.3,388.2 173.8,388.2 174.3,388.3 174.8,388.4 175.3,388.4 175.8,388.5 176.3,388.5 176.8,388.6 177.3,388.6 177.8,388.6 178.3,388.7 178.8,388.7 179.3,388.7 179.8,388.8 180.3,388.8 180.8,388.8 181.3,388.8 181.8,388.8 182.3,388.8 182.8,388.7 183.3,388.7 183.8,388.6 184.3,388.6 184.8,388.5 185.3,388.4 185.8,388.3 186.3,388.2 186.8,388.1 187.3,387.9 187.8,387.8 188.3,387.7 188.8,387.6 189.3,387.4 189.8,387.3 190.3,387.2 190.8,387.0 191.3,386.9 191.8,386.8 192.3,386.6 192.8,386.5 193.3,386.4 193.8,386.3 194.3,386.2 194.8,386.1 195.3,386.0 195.8,385.9 196.3,385.9 196.8,385.8 197.3,385.8 197.8,385.8 198.3,385.8 198.8,385.8 199.3,385.8 199.8,385.9 200.3,385.9 200.8,386.0 201.3,386.1 201.8,386.1 202.3,386.2 202.8,386.3 203.3,386.4 203.8,386.5 204.3,386.7 204.8,386.8 205.3,386.9 205.8,387.0 206.3,387.2 206.8,387.3 207.3,387.5 207.8,387.6 208.3,387.7 208.8,387.9 209.3,388.0 209.8,388.2 210.3,388.3 210.8,388.4 211.3,388.6 211.8,388.7 212.3,388.8 212.8,389.0 213.3,389.1 213.8,389.2 214.3,389.3 214.8,389.4 215.3,389.5 215.8,389.5 216.3,389.6 216.8,389.7 217.3,389.7 217.8,389.8 218.3,389.8 218.8,389.8 219.3,389.8 219.8,389.8 220.3,389.8 220.8,389.7 221.3,389.7 221.8,389.6 222.3,389.6 222.8,389.5 223.3,389.5 223.8,389.4 224.3,389.3 224.8,389.2 225.3,389.1 225.8,389.0 226.3,388.9 226.8,388.8 227.3,388.7 227.8,388.5 228.3,388.4 228.8,388.3 229.3,388.1 229.8,388.0 230.3,387.9 230.8,387.7 231.3,387.6 231.8,387.4 232.3,387.3 232.8,387.2 233.3,387.0 233.8,386.9 234.3,386.7 234.8,386.6 235.3,386.5 235.8,386.3 236.3,386.2 236.8,386.1 237.3,385.9 237.8,385.8 238.3,385.7 238.8,385.6 239.3,385.5 239.8,385.4 240.3,385.3 240.8,385.2 241.3,385.1 241.8,385.0 242.3,385.0 242.8,384.9 243.3,384.8 243.8,384.8 244.3,384.8 244.8,384.7 245.3,384.7 245.8,384.7 246.3,384.7 246.8,384.7 247.3,384.7 247.8,384.8 248.3,384.8 248.8,384.9 249.3,385.0 249.8,385.1 250.3,385.2 250.8,385.3 251.3,385.4 251.8,385.5 252.3,385.7 252.8,385.8 253.3,386.0 253.8,386.1 254.3,386.3 254.8,386.5 255.3,386.6 255.8,386.8 256.3,387.0 256.8,387.2 257.3,387.4 257.8,387.6 258.3,387.8 258.8,388.0 259.3,388.2 259.8,388.3 260.3,388.5 260.8,388.7 261.3,388.9 261.8,389.1 262.3,389.3 262.8,389.5 263.3,389.7 263.8,389.9 264.3,390.0 264.8,390.2 265.3,390.4 265.8,390.5 266.3,390.7 266.8,390.8 267.3,391.0 267.8,391.1 268.3,391.2 268.8,391.3 269.3,391.4 269.8,391.5 270.3,391.6 270.8,391.7 271.3,391.7 271.8,391.8 272.3,391.8 272.8,391.8 273.3,391.8 273.8,391.8 274.3,391.7 274.8,391.7 275.3,391.6 275.8,391.5 276.3,391.4 276.8,391.2 277.3,391.1 277.8,390.9 278.3,390.8 278.8,390.6 279.3,390.4 279.8,390.2 280.3,389.9 280.8,389.7 281.3,389.5 281.8,389.2 282.3,389.0 282.8,388.7 283.3,388.5 283.8,388.2 284.3,388.0 284.8,387.7 285.3,387.5 285.8,387.2 286.3,387.0 286.8,386.7 287.3,386.5 287.8,386.3 288.3,386.1 288.8,385.8 289.3,385.6 289.8,385.4 290.3,385.3 290.8,385.1 291.3,384.9 291.8,384.8 292.3,384.7 292.8,384.5 293.3,384.4 293.8,384.3 294.3,384.2 294.8,384.1 295.3,384.1 295.8,384.0 296.3,383.9 296.8,383.8 297.3,383.7 297.8,383.7 298.3,383.6 298.8,383.6 299.3,383.5 299.8,383.5 300.3,383.5 300.8,383.5 301.3,383.5 301.8,383.5 302.3,383.6 302.8,383.6 303.3,383.6 303.8,383.7 304.3,383.7 304.8,383.8 305.3,383.8 305.8,383.9 306.3,383.9 306.8,384.0 307.3,384.0 307.8,384.1 308.3,384.2 308.8,384.3 309.3,384.5 309.8,384.6 310.3,384.8 310.8,385.0 311.3,385.2 311.8,385.4 312.3,385.6 312.8,385.9 313.3,386.1 313.8,386.4 314.3,386.7 314.8,386.9 315.3,387.2 315.8,387.5 316.3,387.8 316.8,388.1 317.3,388.4 317.8,388.7 318.3,389.0 318.8,389.3 319.3,389.6 319.8,389.9 320.3,390.2 320.8,390.5 321.3,390.8 321.8,391.1 322.3,391.3 322.8,391.6 323.3,391.8 323.8,392.1 324.3,392.3 324.8,392.5 325.3,392.7 325.8,392.9 326.3,393.1 326.8,393.2 327.3,393.3 327.8,393.5 328.3,393.5 328.8,393.6 329.3,393.7 329.8,393.7 330.3,393.7 330.8,393.7 331.3,393.6 331.8,393.5 332.3,393.4 332.8,393.3 333.3,393.1 333.8,392.9 334.3,392.7 334.8,392.5 335.3,392.2 335.8,391.9 336.3,391.6 336.8,391.3 337.3,391.0 337.8,390.7 338.3,390.3 338.8,389.9 339.3,389.6 339.8,389.2 340.3,388.8 340.8,388.3 341.3,387.9 341.8,387.5 342.3,387.1 342.8,386.6 343.3,386.2 343.8,385.7 344.3,385.3 344.8,384.8 345.3,384.4 345.8,384.0 346.3,383.5 346.8,383.1 347.3,382.7 347.8,382.2 348.3,381.8 348.8,381.4 349.3,381.0 349.8,380.6 350.3,380.3 350.8,379.9 351.3,379.6 351.8,379.2 352.3,378.9 352.8,378.6 353.3,378.3 353.8,378.1 354.3,377.8 354.8,377.6 355.3,377.4 355.8,377.3 356.3,377.1 356.8,377.0 357.3,376.9 357.8,376.8 358.3,376.8 358.8,376.8 359.3,376.9 359.8,377.0 360.3,377.1 360.8,377.4 361.3,377.6 361.8,377.9 362.3,378.3 362.8,378.7 363.3,379.2 363.8,379.6 364.3,380.2 364.8,380.7 365.3,381.3 365.8,381.9 366.3,382.6 366.8,383.3 367.3,384.0 367.8,384.7 368.3,385.4 368.8,386.2 369.3,386.9 369.8,387.7 370.3,388.5 370.8,389.3 371.3,390.1 371.8,390.9 372.3,391.7 372.8,392.5 373.3,393.3 373.8,394.1 374.3,394.9 374.8,395.6 375.3,396.4 375.8,397.1 376.3,397.9 376.8,398.6 377.3,399.3 377.8,399.9 378.3,400.5 378.8,401.1 379.3,401.7 379.8,402.3 380.3,402.8 380.8,403.2 381.3,403.6 381.8,404.0 382.3,404.4 382.8,404.6 383.3,404.9 383.8,405.1 384.3,405.2 384.8,405.3 385.3,405.3 385.8,405.2 386.3,405.1 386.8,404.8 387.3,404.4 387.8,404.0 388.3,403.5 388.8,402.9 389.3,402.2 389.8,401.4 390.3,400.6 390.8,399.7 391.3,398.8 391.8,397.8 392.3,396.8 392.8,395.7 393.3,394.6 393.8,393.5 394.3,392.3 394.8,391.1 395.3,389.8 395.8,388.6 396.3,387.3 396.8,386.0 397.3,384.8 397.8,383.5 398.3,382.2 398.8,380.9 399.3,379.7 399.8,378.4 400.3,377.2 400.8,376.0 401.3,374.8 401.8,373.7 402.3,372.6 402.8,371.5 403.3,370.5 403.8,369.5 404.3,368.6 404.8,367.7 405.3,366.9 405.8,366.2 406.3,365.5 406.8,364.9 407.3,364.4 407.8,364.0 408.3,363.7 408.8,363.4 409.3,363.3 409.8,363.2 410.3,363.3 410.8,363.5 411.3,363.9 411.8,364.4 412.3,365.0 412.8,365.8 413.3,366.7 413.8,367.7 414.3,368.8 414.8,370.0 415.3,371.3 415.8,372.6 416.3,374.1 416.8,375.6 417.3,377.1 417.8,378.8 418.3,380.4 418.8,382.1 419.3,383.9 419.8,385.7 420.3,387.4 420.8,389.2 421.3,391.0 421.8,392.8 422.3,394.6 422.8,396.4 423.3,398.2 423.8,399.9 424.3,401.6 424.8,403.2 425.3,404.8 425.8,406.3 426.3,407.8 426.8,409.2 427.3,410.5 427.8,411.7 428.3,412.9 428.8,413.9 429.3,414.9 429.8,415.7 430.3,416.4 430.8,416.9 431.3,417.4 431.8,417.6 432.3,417.8 432.8,417.8 433.3,417.6 433.8,417.3 434.3,416.8 434.8,416.2 435.3,415.5 435.8,414.7 436.3,413.7 436.8,412.7 437.3,411.5 437.8,410.3 438.3,408.9 438.8,407.5 439.3,406.0 439.8,404.4 440.3,402.8 440.8,401.1 441.3,399.3 441.8,397.6 442.3,395.7 442.8,393.9 443.3,392.0 443.8,390.1 444.3,388.2 444.8,386.3 445.3,384.3 445.8,382.4 446.3,380.5 446.8,378.7 447.3,376.8 447.8,375.0 448.3,373.2 448.8,371.5 449.3,369.8 449.8,368.2 450.3,366.6 450.8,365.1 451.3,363.7 451.8,362.4 452.3,361.1 452.8,360.0 453.3,359.0 453.8,358.0 454.3,357.2 454.8,356.5 455.3,356.0 455.8,355.5 456.3,355.3 456.8,355.1 457.3,355.1 457.8,355.3 458.3,355.6 458.8,356.1 459.3,356.8 459.8,357.5 460.3,358.4 460.8,359.5 461.3,360.6 461.8,361.8 462.3,363.2 462.8,364.6 463.3,366.1 463.8,367.7 464.3,369.4 464.8,371.1 465.3,372.9 465.8,374.8 466.3,376.7 466.8,378.6 467.3,380.5 467.8,382.5 468.3,384.5 468.8,386.5 469.3,388.5 469.8,390.5 470.3,392.5 470.8,394.4 471.3,396.4 471.8,398.3 472.3,400.1 472.8,401.9 473.3,403.7 473.8,405.3 474.3,407.0 474.8,408.5 475.3,410.0 475.8,411.3 476.3,412.6 476.8,413.7 477.3,414.8 477.8,415.7 478.3,416.5 478.8,417.1 479.3,417.7 479.8,418.0 480.3,418.2 480.8,418.3 481.3,418.2 481.8,418.0 482.3,417.6 482.8,417.1 483.3,416.5 483.8,415.7 484.3,414.9 484.8,413.9 485.3,412.9 485.8,411.8 486.3,410.6 486.8,409.3 487.3,407.9 487.8,406.4 488.3,405.0 488.8,403.4 489.3,401.8 489.8,400.1 490.3,398.5 490.8,396.7 491.3,395.0 491.8,393.2 492.3,391.5 492.8,389.7 493.3,387.9 493.8,386.1 494.3,384.4 494.8,382.6 495.3,380.9 495.8,379.2 496.3,377.5 496.8,375.9 497.3,374.3 497.8,372.7 498.3,371.3 498.8,369.9 499.3,368.5 499.8,367.2 500.3,366.1 500.8,365.0 501.3,364.0 501.8,363.1 502.3,362.3 502.8,361.6 503.3,361.0 503.8,360.5 504.3,360.2 504.8,360.0 505.3,360.0 505.8,360.1 506.3,360.3 506.8,360.7 507.3,361.1 507.8,361.7 508.3,362.4 508.8,363.2 509.3,364.1 509.8,365.1 510.3,366.2 510.8,367.3 511.3,368.5 511.8,369.8 512.3,371.1 512.8,372.5 513.3,374.0 513.8,375.5 514.3,377.0 514.8,378.6 515.3,380.1 515.8,381.8 516.3,383.4 516.8,385.0 517.3,386.6 517.8,388.3 518.3,389.9 518.8,391.5 519.3,393.1 519.8,394.6 520.3,396.1 520.8,397.6 521.3,399.0 521.8,400.4 522.3,401.8 522.8,403.0 523.3,404.2 523.8,405.4 524.3,406.4 524.8,407.4 525.3,408.2 525.8,409.0 526.3,409.7 526.8,410.3 527.3,410.7 527.8,411.0 528.3,411.2 528.8,411.3 529.3,411.2 529.8,411.1 530.3,410.8 530.8,410.4 531.3,410.0 531.8,409.4 532.3,408.7 532.8,408.0 533.3,407.2 533.8,406.3 534.3,405.4 534.8,404.4 535.3,403.3 535.8,402.2 536.3,401.0 536.8,399.8 537.3,398.5 537.8,397.2 538.3,395.9 538.8,394.6 539.3,393.2 539.8,391.8 540.3,390.4 540.8,389.0 541.3,387.6 541.8,386.2 542.3,384.9 542.8,383.5 543.3,382.1 543.8,380.8 544.3,379.5 544.8,378.2 545.3,377.0 545.8,375.8 546.3,374.7 546.8,373.6 547.3,372.5 547.8,371.6 548.3,370.6 548.8,369.8 549.3,369.0 549.8,368.4 550.3,367.8 550.8,367.3 551.3,366.8 551.8,366.5 552.3,366.3 552.8,366.2 553.3,366.2 553.8,366.4 554.3,366.6 554.8,366.9 555.3,367.4 555.8,368.0 556.3,368.6 556.8,369.3 557.3,370.1 557.8,371.0 558.3,372.0 558.8,373.0 559.3,374.1 559.8,375.2 560.3,376.4 560.8,377.6 561.3,378.9 561.8,380.1 562.3,381.5 562.8,382.8 563.3,384.1 563.8,385.5 564.3,386.8 564.8,388.2 565.3,389.5 565.8,390.9 566.3,392.2 566.8,393.5 567.3,394.8 567.8,396.0 568.3,397.2 568.8,398.3 569.3,399.4 569.8,400.4 570.3,401.4 570.8,402.3 571.3,403.1 571.8,403.9 572.3,404.5 572.8,405.1 573.3,405.6 573.8,405.9 574.3,406.2 574.8,406.4 575.3,406.4 575.8,406.3 576.3,406.1 576.8,405.8 577.3,405.4 577.8,404.9 578.3,404.4 578.8,403.7 579.3,403.0 579.8,402.2 580.3,401.3 580.8,400.3 581.3,399.3 581.8,398.3 582.3,397.2 582.8,396.0 583.3,394.9 583.8,393.7 584.3,392.4 584.8,391.2 585.3,389.9 585.8,388.6 586.3,387.4 586.8,386.1 587.3,384.8 587.8,383.6 588.3,382.3 588.8,381.1 589.3,379.9 589.8,378.8 590.3,377.7 590.8,376.6 591.3,375.6 591.8,374.6 592.3,373.7 592.8,372.8 593.3,372.1 593.8,371.4 594.3,370.8 594.8,370.2 595.3,369.8 595.8,369.5 596.3,369.2 596.8,369.1 597.3,369.1 597.8,369.2 598.3,369.5 598.8,369.9 599.3,370.4 599.8,371.0 600.3,371.7 600.8,372.5 601.3,373.4 601.8,374.3 602.3,375.4 602.8,376.5 603.3,377.7 603.8,378.9 604.3,380.2 604.8,381.5 605.3,382.9 605.8,384.3 606.3,385.7 606.8,387.1 607.3,388.5 607.8,389.9 608.3,391.3 608.8,392.7 609.3,394.1 609.8,395.4 610.3,396.7 610.8,398.0 611.3,399.2 611.8,400.3 612.3,401.4 612.8,402.5 613.3,403.4 613.8,404.3 614.3,405.0 614.8,405.7 615.3,406.3 615.8,406.7 616.3,407.0 616.8,407.2 617.3,407.3 617.8,407.2 618.3,407.0 618.8,406.7 619.3,406.3 619.8,405.7 620.3,405.1 620.8,404.3 621.3,403.5 621.8,402.5 622.3,401.5 622.8,400.4 623.3,399.2 623.8,398.0 624.3,396.7 624.8,395.4 625.3,394.1 625.8,392.7 626.3,391.2 626.8,389.8 627.3,388.3 627.8,386.8 628.3,385.3 628.8,383.8 629.3,382.3 629.8,380.9 630.3,379.4 630.8,378.0 631.3,376.6 631.8,375.2 632.3,373.9 632.8,372.7 633.3,371.5 633.8,370.3 634.3,369.3 634.8,368.3 635.3,367.4 635.8,366.6 636.3,365.9 636.8,365.2 637.3,364.7 637.8,364.3 638.3,364.1 638.8,363.9 639.3,363.9 639.8,364.1 640.3,364.4 640.8,364.8 641.3,365.5 641.8,366.2 642.3,367.1 642.8,368.1 643.3,369.2 643.8,370.4 644.3,371.7 644.8,373.1 645.3,374.6 645.8,376.1 646.3,377.7 646.8,379.4 647.3,381.0 647.8,382.8 648.3,384.5 648.8,386.3 649.3,388.1 649.8,389.9 650.3,391.6 650.8,393.4 651.3,395.1 651.8,396.8 652.3,398.5 652.8,400.1 653.3,401.6 653.8,403.1 654.3,404.5 654.8,405.8 655.3,407.1 655.8,408.2 656.3,409.2 656.8,410.1 657.3,410.9 657.8,411.5 658.3,412.0 658.8,412.4 659.3,412.6 659.8,412.6 660.3,412.5 660.8,412.2 661.3,411.8 661.8,411.2 662.3,410.5 662.8,409.7 663.3,408.8 663.8,407.8 664.3,406.8 664.8,405.6 665.3,404.3 665.8,403.0 666.3,401.6 666.8,400.1 667.3,398.6 667.8,397.0 668.3,395.4 668.8,393.8 669.3,392.1 669.8,390.4 670.3,388.7 670.8,387.1 671.3,385.4 671.8,383.7 672.3,382.0 672.8,380.4 673.3,378.8 673.8,377.2 674.3,375.7 674.8,374.2 675.3,372.8 675.8,371.5 676.3,370.2 676.8,369.0 677.3,368.0 677.8,367.0 678.3,366.1 678.8,365.3 679.3,364.6 679.8,364.0 680.3,363.6 680.8,363.3 681.3,363.2 681.8,363.2 682.3,363.4 682.8,363.8 683.3,364.3 683.8,364.9 684.3,365.7 684.8,366.6 685.3,367.6 685.8,368.7 686.3,370.0 686.8,371.3 687.3,372.7 687.8,374.2 688.3,375.7 688.8,377.3 689.3,378.9 689.8,380.6 690.3,382.3 690.8,384.0 691.3,385.7 691.8,387.4 692.3,389.1 692.8,390.8 693.3,392.5 693.8,394.1 694.3,395.7 694.8,397.2 695.3,398.7 695.8,400.1 696.3,401.4 696.8,402.7 697.3,403.8 697.8,404.8 698.3,405.7 698.8,406.5 699.3,407.1 699.8,407.6 700.3,408.0 700.8,408.2 701.3,408.2 701.8,408.1 702.3,407.8 702.8,407.5 703.3,407.0 703.8,406.4 704.3,405.7 704.8,404.9 705.3,404.0 705.8,403.1 706.3,402.1 706.8,401.0 707.3,399.8 707.8,398.6 708.3,397.4 708.8,396.1 709.3,394.8 709.8,393.5 710.3,392.2 710.8,390.8 711.3,389.4 711.8,388.1 712.3,386.7 712.8,385.4 713.3,384.1 713.8,382.8 714.3,381.6 714.8,380.4 715.3,379.3 715.8,378.2 716.3,377.2 716.8,376.3 717.3,375.4 717.8,374.7 718.3,374.0 718.8,373.4 719.3,373.0 719.8,372.6 720.3,372.4 720.8,372.3 721.3,372.3 721.8,372.4 722.3,372.6 722.8,372.9 723.3,373.3 723.8,373.7 724.3,374.2 724.8,374.8 725.3,375.4 725.8,376.0 726.3,376.8 726.8,377.5 727.3,378.3 727.8,379.2 728.3,380.0 728.8,380.9 729.3,381.8 729.8,382.8 730.3,383.7 730.8,384.7 731.3,385.7 731.8,386.6 732.3,387.6 732.8,388.5 733.3,389.5 733.8,390.4 734.3,391.3 734.8,392.2 735.3,393.1 735.8,393.9 736.3,394.6 736.8,395.4 737.3,396.1 737.8,396.7 738.3,397.3 738.8,397.8 739.3,398.3 739.8,398.6 740.3,399.0 740.8,399.2 741.3,399.3 741.8,399.4 742.3,399.4 742.8,399.2 743.3,399.0 743.8,398.6 744.3,398.2 744.8,397.7 745.3,397.1 745.8,396.5 746.3,395.8 746.8,395.0 747.3,394.2 747.8,393.3 748.3,392.4 748.8,391.4 749.3,390.5 749.8,389.5 750.3,388.5 750.8,387.5 751.3,386.4 751.8,385.4 752.3,384.4 752.8,383.4 753.3,382.5 753.8,381.6 754.3,380.7 754.8,379.8 755.3,379.0 755.8,378.2 756.3,377.6 756.8,376.9 757.3,376.4 757.8,375.9 758.3,375.5 758.8,375.2 759.3,375.0 759.8,374.9 760.3,374.9 760.8,375.0 761.3,375.3 761.8,375.6 762.3,376.0 762.8,376.4 763.3,377.0 763.8,377.6 764.3,378.3 764.8,379.1 765.3,379.9 765.8,380.7 766.3,381.6 766.8,382.5 767.3,383.5 767.8,384.5 768.3,385.5 768.8,386.5 769.3,387.5 769.8,388.5 770.3,389.5 770.8,390.5 771.3,391.5 771.8,392.5 772.3,393.4 772.8,394.3 773.3,395.2 773.8,396.0 774.3,396.7 774.8,397.4 775.3,398.1 775.8,398.7 776.3,399.2 776.8,399.6 777.3,399.9 777.8,400.1 778.3,400.3 778.8,400.3 779.3,400.2 779.8,400.0 780.3,399.8 780.8,399.4 781.3,398.9 781.8,398.4 782.3,397.8 782.8,397.1 783.3,396.3 783.8,395.5 784.3,394.7 784.8,393.8 785.3,392.8 785.8,391.9 786.3,390.9 786.8,389.9 787.3,388.8 787.8,387.8 788.3,386.8 788.8,385.7 789.3,384.7 789.8,383.7 790.3,382.7 790.8,381.8 791.3,380.9 791.8,380.0 792.3,379.2 792.8,378.4 793.3,377.7 793.8,377.1 794.3,376.5 794.8,376.0 795.3,375.6 795.8,375.3 796.3,375.0 796.8,374.9 797.3,374.9 797.8,375.0 798.3,375.1 798.8,375.4 799.3,375.7 799.8,376.1 800.3,376.5 800.8,377.0 801.3,377.6 801.8,378.2 802.3,378.8 802.8,379.5 803.3,380.3 803.8,381.1 804.3,381.9 804.8,382.7 805.3,383.6 805.8,384.5 806.3,385.4 806.8,386.3 807.3,387.2 807.8,388.1 808.3,389.1 808.8,390.0 809.3,390.9 809.8,391.8 810.3,392.7 810.8,393.5 811.3,394.4 811.8,395.2 812.3,396.0 812.8,396.7 813.3,397.4 813.8,398.0 814.3,398.7 814.8,399.2 815.3,399.7 815.8,400.1 816.3,400.5 816.8,400.8 817.3,401.0 817.8,401.1 818.3,401.2 818.8,401.2 819.3,401.0 819.8,400.8 820.3,400.5 820.8,400.1 821.3,399.7 821.8,399.1 822.3,398.5 822.8,397.9 823.3,397.2 823.8,396.4 824.3,395.6 824.8,394.7 825.3,393.9 825.8,392.9 826.3,392.0 826.8,391.1 827.3,390.1 827.8,389.1 828.3,388.2 828.8,387.2 829.3,386.3 829.8,385.3 830.3,384.4 830.8,383.5 831.3,382.7 831.8,381.8 832.3,381.0 832.8,380.3 833.3,379.6 833.8,379.0 834.3,378.4 834.8,378.0 835.3,377.5 835.8,377.2 836.3,376.9 836.8,376.8 837.3,376.7 837.8,376.7 838.3,376.8 838.8,376.9 839.3,377.1 839.8,377.3 840.3,377.6 840.8,377.9 841.3,378.3 841.8,378.7 842.3,379.1 842.8,379.6 843.3,380.1 843.8,380.6 844.3,381.2 844.8,381.8 845.3,382.4 845.8,383.0 846.3,383.7 846.8,384.3 847.3,385.0 847.8,385.7 848.3,386.4 848.8,387.0 849.3,387.7 849.8,388.4 850.3,389.1 850.8,389.8 851.3,390.5 851.8,391.1 852.3,391.8 852.8,392.4 853.3,393.1 853.8,393.7 854.3,394.2 854.8,394.8 855.3,395.3 855.8,395.8 856.3,396.3 856.8,396.7 857.3,397.1 857.8,397.4 858.3,397.7 858.8,398.0 859.3,398.2 859.8,398.3 860.3,398.4 860.8,398.5 861.3,398.5 861.8,398.4 862.3,398.1 862.8,397.8 863.3,397.4 863.8,396.9 864.3,396.4 864.8,395.7 865.3,395.0 865.8,394.2 866.3,393.4 866.8,392.5 867.3,391.6 867.8,390.7 868.3,389.7 868.8,388.7 869.3,387.7 869.8,386.7 870.3,385.6 870.8,384.6 871.3,383.6 871.8,382.6 872.3,381.6 872.8,380.6 873.3,379.7 873.8,378.8 874.3,378.0 874.8,377.2 875.3,376.4 875.8,375.7 876.3,375.1 876.8,374.6 877.3,374.1 877.8,373.7 878.3,373.5 878.8,373.3 879.3,373.2 879.8,373.2 880.3,373.4 880.8,373.7 881.3,374.2 881.8,374.7 882.3,375.4 882.8,376.2 883.3,377.0 883.8,377.9 884.3,378.9 884.8,380.0 885.3,381.1 885.8,382.3 886.3,383.5 886.8,384.7 887.3,386.0 887.8,387.2 888.3,388.5 888.8,389.7 889.3,391.0 889.8,392.2 890.3,393.4 890.8,394.5 891.3,395.6 891.8,396.7 892.3,397.6 892.8,398.5 893.3,399.4 893.8,400.1 894.3,400.7 894.8,401.2 895.3,401.6 895.8,401.9 896.3,402.0 896.8,402.0 897.3,401.8 897.8,401.5 898.3,401.1 898.8,400.6 899.3,400.0 899.8,399.3 900.3,398.5 900.8,397.6 901.3,396.7 901.8,395.7 902.3,394.7 902.8,393.6 903.3,392.5 903.8,391.4 904.3,390.3 904.8,389.2 905.3,388.1 905.8,387.0 906.3,386.0 906.8,385.0 907.3,384.0 907.8,383.1 908.3,382.3 908.8,381.6 909.3,380.9 909.8,380.4 910.3,379.9 910.8,379.6 911.3,379.4 911.8,379.3 912.3,379.3 912.8,379.4 913.3,379.6 913.8,379.8 914.3,380.0 914.8,380.3 915.3,380.7 915.8,381.0 916.3,381.4 916.8,381.8 917.3,382.3 917.8,382.7 918.3,383.2 918.8,383.6 919.3,384.1 919.8,384.6 920.3,385.0 920.8,385.5 921.3,385.9 921.8,386.3 922.3,386.6 922.8,387.0 923.3,387.3 923.8,387.5 924.3,387.7 924.8,387.9 925.3,388.0 925.8,388.0 926.3,388.0 926.8,387.8 927.3,387.6 927.8,387.4 928.3,387.2 928.8,386.9 929.3,386.7 929.8,386.4 930.3,386.3 930.8,386.2 931.3,386.2 931.8,386.3 932.3,386.5 932.8,386.7 933.3,387.0 933.8,387.3 934.3,387.7 934.8,388.1 935.3,388.5 935.8,389.0 936.3,389.4 936.8,389.9 937.3,390.4 937.8,390.8 938.3,391.3 938.8,391.7 939.3,392.1 939.8,392.5 940.3,392.8 940.8,393.1 941.3,393.3 941.8,393.5 942.3,393.6 942.8,393.6 943.3,393.5 943.8,393.4 944.3,393.2 944.8,393.0 945.3,392.7 945.8,392.4 946.3,392.0 946.8,391.6 947.3,391.1 947.8,390.7 948.3,390.1 948.8,389.6 949.3,389.1 949.8,388.5 950.3,388.0 950.8,387.4 951.3,386.8 951.8,386.3 952.3,385.7 952.8,385.2 953.3,384.7 953.8,384.1 954.3,383.7 954.8,383.2 955.3,382.8 955.8,382.4 956.3,382.1 956.8,381.8 957.3,381.6 957.8,381.4 958.3,381.3 958.8,381.2 959.3,381.2 959.8,381.4 960.3,381.7 960.8,382.1 961.3,382.6 961.8,383.1 962.3,383.7 962.8,384.4 963.3,385.0 963.8,385.7 964.3,386.3 964.8,386.8 965.3,387.3 965.8,387.7 966.3,388.1 966.8,388.3 967.3,388.3 967.8,388.3 968.3,388.2 968.8,388.2 969.3,388.1 969.8,388.0 970.3,387.8 970.8,387.7 971.3,387.6 971.8,387.4 972.3,387.3 972.8,387.1 973.3,387.0 973.8,386.8 974.3,386.7 974.8,386.6 975.3,386.5 975.8,386.4 976.3,386.3 976.8,386.3 977.3,386.3 977.8,386.4 978.3,386.6 978.8,387.0 979.3,387.4 979.8,387.9 980.3,388.5 980.8,389.1 981.3,389.7 981.8,390.4 982.3,391.2 982.8,391.9 983.3,392.6 983.8,393.4 984.3,394.1 984.8,394.7 985.3,395.3 985.8,395.9 986.3,396.4 986.8,396.8 987.3,397.2 987.8,397.4 988.3,397.5 988.8,397.5 989.3,397.2 989.8,396.6 990.3,395.9 990.8,395.0 991.3,393.9 991.8,392.6 992.3,391.3 992.8,389.8 993.3,388.3 993.8,386.7 994.3,385.1 994.8,383.5 995.3,381.9 995.8,380.3 996.3,378.8 996.8,377.4 997.3,376.1 997.8,374.9 998.3,373.9 998.8,373.1 999.3,372.5 999.8,372.1 1000.3,372.0 1000.8,372.1 1001.3,372.6 1001.8,373.3 1002.3,374.2 1002.8,375.3 1003.3,376.6 1003.8,378.1 1004.3,379.8 1004.8,381.6 1005.3,383.4 1005.8,385.4 1006.3,387.4 1006.8,389.5 1007.3,391.6 1007.8,393.6 1008.3,395.7 1008.8,397.7 1009.3,399.6 1009.8,401.5 1010.3,403.2 1010.8,404.8 1011.3,406.2 1011.8,407.5 1012.3,408.5 1012.8,409.3 1013.3,409.9 1013.8,410.2 1014.3,410.3 1014.8,409.9 1015.3,409.2 1015.8,408.1 1016.3,406.8 1016.8,405.1 1017.3,403.2 1017.8,401.1 1018.3,398.8 1018.8,396.4 1019.3,393.8 1019.8,391.1 1020.3,388.4 1020.8,385.6 1021.3,382.8 1021.8,380.0 1022.3,377.3 1022.8,374.7 1023.3,372.1 1023.8,369.7 1024.3,367.5 1024.8,365.5 1025.3,363.7 1025.8,362.1 1026.3,360.9 1026.8,360.0 1027.3,359.4 1027.8,359.2 1028.3,359.5 1028.8,360.3 1029.3,361.6 1029.8,363.3 1030.3,365.5 1030.8,367.9 1031.3,370.7 1031.8,373.7 1032.3,377.0 1032.8,380.4 1033.3,383.9 1033.8,387.5 1034.3,391.2 1034.8,394.8 1035.3,398.3 1035.8,401.7 1036.3,405.0 1036.8,408.1 1037.3,410.9 1037.8,413.5 1038.3,415.7 1038.8,417.5 1039.3,418.9 1039.8,419.8 1040.3,420.2 1040.8,420.0 1041.3,419.4 1041.8,418.3 1042.3,416.7 1042.8,414.8 1043.3,412.6 1043.8,410.0 1044.3,407.2 1044.8,404.1 1045.3,400.9 1045.8,397.5 1046.3,394.0 1046.8,390.4 1047.3,386.8 1047.8,383.1 1048.3,379.5 1048.8,376.0 1049.3,372.6 1049.8,369.4 1050.3,366.3 1050.8,363.5 1051.3,360.9 1051.8,358.7 1052.3,356.8 1052.8,355.2 1053.3,354.1 1053.8,353.5 1054.3,353.3 1054.8,353.7 1055.3,354.8 1055.8,356.3 1056.3,358.4 1056.8,360.8 1057.3,363.7 1057.8,366.9 1058.3,370.4 1058.8,374.2 1059.3,378.2 1059.8,382.3 1060.3,386.5 1060.8,390.8 1061.3,395.1 1061.8,399.3 1062.3,403.5 1062.8,407.5 1063.3,411.4 1063.8,415.0 1064.3,418.3 1064.8,421.4 1065.3,424.0 1065.8,426.2 1066.3,428.0 1066.8,429.2 1067.3,429.9 1067.8,429.9 1068.3,429.3 1068.8,428.1 1069.3,426.3 1069.8,423.9 1070.3,421.1 1070.8,417.9 1071.3,414.3 1071.8,410.3 1072.3,406.1 1072.8,401.6 1073.3,397.0 1073.8,392.3 1074.3,387.5 1074.8,382.7 1075.3,377.9 1075.8,373.1 1076.3,368.6 1076.8,364.1 1077.3,360.0 1077.8,356.1 1078.3,352.5 1078.8,349.4 1079.3,346.6 1079.8,344.4 1080.3,342.7 1080.8,341.6 1081.3,341.1 1081.8,341.4 1082.3,342.6 1082.8,344.5 1083.3,347.2 1083.8,350.6 1084.3,354.5 1084.8,359.0 1085.3,363.8 1085.8,369.1 1086.3,374.6 1086.8,380.4 1087.3,386.3 1087.8,392.2 1088.3,398.2 1088.8,404.1 1089.3,409.8 1089.8,415.3 1090.3,420.5 1090.8,425.3 1091.3,429.6 1091.8,433.5 1092.3,436.7 1092.8,439.2 1093.3,441.0 1093.8,442.0 1094.3,442.1 1094.8,441.2 1095.3,439.4 1095.8,436.7 1096.3,433.2 1096.8,429.1 1097.3,424.3 1097.8,419.0 1098.3,413.3 1098.8,407.2 1099.3,400.9 1099.8,394.3 1100.3,387.6 1100.8,380.9 1101.3,374.3 1101.8,367.7 1102.3,361.4 1102.8,355.4 1103.3,349.8 1103.8,344.6 1104.3,340.0 1104.8,335.9 1105.3,332.6 1105.8,330.1 1106.3,328.4 1106.8,327.7 1107.3,328.0 1107.8,329.3 1108.3,331.5 1108.8,334.6 1109.3,338.4 1109.8,342.8 1110.3,347.9 1110.8,353.4 1111.3,359.4 1111.8,365.8 1112.3,372.4 1112.8,379.2 1113.3,386.1 1113.8,393.1 1114.3,400.0 1114.8,406.7 1115.3,413.3 1115.8,419.6 1116.3,425.5 1116.8,431.0 1117.3,435.9 1117.8,440.2 1118.3,443.9 1118.8,446.8 1119.3,448.8 1119.8,449.9 1120.3,450.0 1120.8,449.2 1121.3,447.4 1121.8,444.9 1122.3,441.6 1122.8,437.7 1123.3,433.1 1123.8,428.1 1124.3,422.6 1124.8,416.8 1125.3,410.6 1125.8,404.2 1126.3,397.7 1126.8,391.2 1127.3,384.6 1127.8,378.1 1128.3,371.7 1128.8,365.5 1129.3,359.7 1129.8,354.2 1130.3,349.2 1130.8,344.6 1131.3,340.7 1131.8,337.4 1132.3,334.9 1132.8,333.1 1133.3,332.3 1133.8,332.3 1134.3,333.2 1134.8,334.8 1135.3,337.1 1135.8,339.9 1136.3,343.3 1136.8,347.1 1137.3,351.4 1137.8,355.9 1138.3,360.8 1138.8,365.8 1139.3,371.0 1139.8,376.3 1140.3,381.6 1140.8,386.8 1141.3,391.9 1141.8,396.9 1142.3,401.6 1142.8,405.9 1143.3,409.9 1143.8,413.5 1144.3,416.6 1144.8,419.1 1145.3,420.9 1145.8,422.1 1146.3,422.5 1146.8,422.3 1147.3,421.6 1147.8,420.5 1148.3,419.0 1148.8,417.2 1149.3,415.1 1149.8,412.6 1150.3,409.9 1150.8,407.0 1151.3,403.8 1151.8,400.5 1152.3,397.0 1152.8,393.4 1153.3,389.7 1153.8,386.0 1154.3,382.2 1154.8,378.4 1155.3,374.6 1155.8,370.9 1156.3,367.3 1156.8,363.8 1157.3,360.4 1157.8,357.2 1158.3,354.2 1158.8,351.5 1159.3,349.0 1159.8,346.8 1160.3,344.9 1160.8,343.4 1161.3,342.2 1161.8,341.4 1162.3,341.1 1162.8,341.4 1163.3,342.4 1163.8,344.0 1164.3,346.4 1164.8,349.3 1165.3,352.7 1165.8,356.5 1166.3,360.7 1166.8,365.2 1167.3,370.0 1167.8,374.9 1168.3,380.0 1168.8,385.1 1169.3,390.2 1169.8,395.2 1170.3,400.1 1170.8,404.7 1171.3,409.1 1171.8,413.2 1172.3,416.9 1172.8,420.1 1173.3,422.7 1173.8,424.8 1174.3,426.2 1174.8,426.9 1175.3,426.9 1175.8,426.0 1176.3,424.5 1176.8,422.3 1177.3,419.6 1177.8,416.3 1178.3,412.6 1178.8,408.5 1179.3,404.0 1179.8,399.2 1180.3,394.2 1180.8,389.0 1181.3,383.8 1181.8,378.4 1182.3,373.0 1182.8,367.8 1183.3,362.6 1183.8,357.6 1184.3,352.8 1184.8,348.3 1185.3,344.2 1185.8,340.5 1186.3,337.2 1186.8,334.5 1187.3,332.3 1187.8,330.8 1188.3,329.9 1188.8,329.9 1189.3,331.2 1189.8,333.8 1190.3,337.6 1190.8,342.5 1191.3,348.2 1191.8,354.8 1192.3,361.9 1192.8,369.6 1193.3,377.6 1193.8,385.9 1194.3,394.3 1194.8,402.6 1195.3,410.7 1195.8,418.6 1196.3,425.9 1196.8,432.7 1197.3,438.8 1197.8,444.1 1198.3,448.3 1198.8,451.4 1199.3,453.2 1199.8,453.7 1200.3,452.7 1200.8,450.4 1201.3,446.9 1201.8,442.4 1202.3,436.9 1202.8,430.6 1203.3,423.6 1203.8,416.0 1204.3,408.0 1204.8,399.6 1205.3,391.1 1205.8,382.5 1206.3,373.9 1206.8,365.6 1207.3,357.5 1207.8,349.8 1208.3,342.7 1208.8,336.2 1209.3,330.6 1209.8,325.8 1210.3,322.1 1210.8,319.6 1211.3,318.3 1211.8,318.6 1212.3,320.7 1212.8,324.5 1213.3,329.8 1213.8,336.4 1214.3,344.1 1214.8,352.7 1215.3,361.9 1215.8,371.7 1216.3,381.7 1216.8,391.7 1217.3,401.7 1217.8,411.2 1218.3,420.2 1218.8,428.5 1219.3,435.8 1219.8,441.9 1220.3,446.6 1220.8,449.8 1221.3,451.2 1221.8,450.6 1222.3,448.1 1222.8,443.9 1223.3,438.3 1223.8,431.4 1224.3,423.5 1224.8,414.7 1225.3,405.4 1225.8,395.7 1226.3,385.8 1226.8,375.9 1227.3,366.3 1227.8,357.2 1228.3,348.8 1228.8,341.2 1229.3,334.8 1229.8,329.8 1230.3,326.2 1230.8,324.5 1231.3,324.7 1231.8,327.0 1232.3,331.2 1232.8,337.1 1233.3,344.3 1233.8,352.7 1234.3,362.0 1234.8,371.9 1235.3,382.2 1235.8,392.8 1236.3,403.2 1236.8,413.3 1237.3,422.9 1237.8,431.7 1238.3,439.4 1238.8,445.8 1239.3,450.7 1239.8,453.8 1240.3,454.9 1240.8,453.7 1241.3,450.2 1241.8,444.8 1242.3,437.5 1242.8,428.7 1243.3,418.6 1243.8,407.5 1244.3,395.4 1244.8,382.8 1245.3,369.8 1245.8,356.6 1246.3,343.6 1246.8,330.9 1247.3,318.7 1247.8,307.3 1248.3,297.0 1248.8,287.9 1249.3,280.3 1249.8,274.5 1250.3,270.6 1250.8,268.9 1251.3,271.0 1251.8,279.3 1252.3,292.8 1252.8,310.9 1253.3,332.5 1253.8,356.9 1254.3,383.1 1254.8,410.3 1255.3,437.5 1255.8,464.0 1256.3,488.8 1256.8,511.0 1257.3,529.9 1257.8,544.4 1258.3,553.8 1258.8,557.1 1259.3,553.0 1259.8,541.4 1260.3,523.4 1260.8,500.1 1261.3,472.6 1261.8,442.1 1262.3,409.6 1262.8,376.1 1263.3,343.0 1263.8,311.1 1264.3,281.6 1264.8,255.7 1265.3,234.4 1265.8,218.8 1266.3,210.1 1266.8,209.3 1267.3,216.6 1267.8,231.0 1268.3,251.4 1268.8,276.4 1269.3,305.0 1269.8,335.9 1270.3,368.1 1270.8,400.2 1271.3,431.1 1271.8,459.7 1272.3,484.7 1272.8,505.1 1273.3,519.5 1273.8,526.8 1274.3,526.2 1274.8,518.7 1275.3,505.4 1275.8,487.5 1276.3,466.1 1276.8,442.1 1277.3,416.8 1277.8,391.1 1278.3,366.2 1278.8,343.1 1279.3,322.9 1279.8,306.7 1280.3,295.7 1280.8,290.7 1281.3,292.2 1281.8,298.4 1282.3,308.4 1282.8,321.6 1283.3,337.0 1283.8,353.9 1284.3,371.5 1284.8,389.0 1285.3,405.7 1285.8,420.7 1286.3,433.2 1286.8,442.6 1287.3,447.9 1287.8,448.5 1288.3,445.3 1288.8,439.0 1289.3,430.4 1289.8,420.0 1290.3,408.4 1290.8,396.4 1291.3,384.5 1291.8,373.3 1292.3,363.5 1292.8,355.8 1293.3,350.6 1293.8,348.8 1294.3,350.4 1294.8,354.9 1295.3,361.5 1295.8,369.7 1296.3,378.9 1296.8,388.3 1297.3,397.5 1297.8,405.7 1298.3,412.3 1298.8,416.8 1299.3,418.4 1299.8,417.2 1300.3,413.7 1300.8,408.5 1301.3,401.9 1301.8,394.4 1302.3,386.3 1302.8,378.1 1303.3,370.1 1303.8,362.9 1304.3,356.8 1304.8,352.3 1305.3,349.7 1305.8,349.4 1306.3,351.9 1306.8,356.8 1307.3,363.5 1307.8,371.6 1308.3,380.7 1308.8,390.2 1309.3,399.7 1309.8,408.8 1310.3,416.9 1310.8,423.6 1311.3,428.5 1311.8,431.0 1312.3,430.7 1312.8,428.1 1313.3,423.3 1313.8,416.9 1314.3,409.1 1314.8,400.5 1315.3,391.2 1315.8,381.8 1316.3,372.5 1316.8,363.9 1317.3,356.1 1317.8,349.7 1318.3,344.9 1318.8,342.3 1319.3,342.0 1319.8,344.2 1320.3,348.5 1320.8,354.5 1321.3,361.8 1321.8,370.2 1322.3,379.2 1322.8,388.4 1323.3,397.6 1323.8,406.2 1324.3,414.0 1324.8,420.6 1325.3,425.6 1325.8,428.7 1326.3,429.5 1326.8,428.4 1327.3,425.8 1327.8,422.1 1328.3,417.4 1328.8,411.9 1329.3,405.8 1329.8,399.4 1330.3,392.8 1330.8,386.2 1331.3,380.0 1331.8,374.2 1332.3,369.2 1332.8,365.0 1333.3,362.0 1333.8,360.3 1334.3,360.0 1334.8,360.4 1335.3,361.1 1335.8,362.1 1336.3,363.4 1336.8,365.0 1337.3,366.9 1337.8,368.9 1338.3,371.1 1338.8,373.5 1339.3,376.0 1339.8,378.6 1340.3,381.2 1340.8,383.9 1341.3,386.6 1341.8,389.3 1342.3,391.9 1342.8,394.4 1343.3,396.8 1343.8,399.1 1344.3,401.1 1344.8,403.0 1345.3,404.7 1345.8,406.0 1346.3,407.1 1346.8,407.9 1347.3,408.3 1347.8,408.3 1348.3,407.5 1348.8,406.0 1349.3,403.7 1349.8,400.9 1350.3,397.6 1350.8,394.0 1351.3,390.2 1351.8,386.3 1352.3,382.4 1352.8,378.6 1353.3,375.0 1353.8,371.7 1354.3,368.9 1354.8,366.6 1355.3,365.1 1355.8,364.3 1356.3,364.4 1356.8,365.5 1357.3,367.5 1357.8,370.2 1358.3,373.5 1358.8,377.2 1359.3,381.2 1359.8,385.3 1360.3,389.4 1360.8,393.3 1361.3,396.8 1361.8,399.9 1362.3,402.4 1362.8,404.0 1363.3,404.8 1363.8,404.6 1364.3,403.9 1364.8,402.7 1365.3,401.1 1365.8,399.2 1366.3,397.1 1366.8,394.7 1367.3,392.3 1367.8,389.7 1368.3,387.3 1368.8,384.9 1369.3,382.7 1369.8,380.7 1370.3,379.1 1370.8,377.8 1371.3,377.0 1371.8,376.7 1372.3,376.9 1372.8,377.4 1373.3,378.2 1373.8,379.2 1374.3,380.5 1374.8,381.9 1375.3,383.5 1375.8,385.2 1376.3,386.9 1376.8,388.7 1377.3,390.4 1377.8,392.1 1378.3,393.8 1378.8,395.3 1379.3,396.6 1379.8,397.7 1380.3,398.6 1380.8,399.3 1381.3,399.6 1381.8,399.5 1382.3,398.9 1382.8,397.9 1383.3,396.4 1383.8,394.7 1384.3,392.7 1384.8,390.5 1385.3,388.1 1385.8,385.7 1386.3,383.3 1386.8,381.0 1387.3,378.8 1387.8,376.8 1388.3,375.1 1388.8,373.8 1389.3,372.8 1389.8,372.3 1390.3,372.4 1390.8,373.1 1391.3,374.3 1391.8,376.0 1392.3,378.0 1392.8,380.3 1393.3,382.8 1393.8,385.4 1394.3,388.0 1394.8,390.6 1395.3,393.0 1395.8,395.1 1396.3,397.0 1396.8,398.4 1397.3,399.3 1397.8,399.6 1398.3,399.4 1398.8,398.7 1399.3,397.8 1399.8,396.5 1400.3,395.0 1400.8,393.4 1401.3,391.6 1401.8,389.8 1402.3,388.0 1402.8,386.3 1403.3,384.8 1403.8,383.4 1404.3,382.3 1404.8,381.5 1405.3,381.1 1405.8,381.2 1406.3,381.5 1406.8,382.1 1407.3,382.9 1407.8,383.8 1408.3,384.8 1408.8,385.9 1409.3,387.0 1409.8,388.0 1410.3,388.9 1410.8,389.7 1411.3,390.3 1411.8,390.6 1412.3,390.7 1412.8,390.6 1413.3,390.5 1413.8,390.4 1414.3,390.2 1414.8,390.0 1415.3,389.7 1415.8,389.4 1416.3,389.1 1416.8,388.8 1417.3,388.5 1417.8,388.1 1418.3,387.8 1418.8,387.5 1419.3,387.1 1419.8,386.8 1420.3,386.5 1420.8,386.2 1421.3,386.0 1421.8,385.8 1422.3,385.6 1422.8,385.4 1423.3,385.3 1423.8,385.3 1424.3,385.3 1424.8,385.5 1425.3,385.8 1425.8,386.2 1426.3,386.6 1426.8,387.1 1427.3,387.7 1427.8,388.2 1428.3,388.8 1428.8,389.4 1429.3,389.9 1429.8,390.4 1430.3,390.8 1430.8,391.1 1431.3,391.4 1431.8,391.5 1432.3,391.5 1432.8,391.4 1433.3,391.2 1433.8,390.9 1434.3,390.5 1434.8,390.0 1435.3,389.5 1435.8,388.9 1436.3,388.3 1436.8,387.6" fill="none" stroke="#0868a8" stroke-width="4.2" stroke-linejoin="round" shape-rendering="crispEdges"/>
<rect x="171.5" y="517.5" width="576" height="139" fill="#fff" stroke="#000" stroke-width="1" shape-rendering="crispEdges"/>
<g shape-rendering="crispEdges"><rect x="192" y="538" width="102" height="4" fill="#0868a8"/><rect x="192" y="585" width="102" height="2" fill="#666"/><rect x="192" y="632" width="102" height="2" fill="#cacaca"/>
<rect x="243" y="540" width="1" height="1" fill="#000"/><rect x="243" y="586" width="1" height="1" fill="#000"/><rect x="243" y="633" width="1" height="1" fill="#000"/></g>
<g font-size="30" text-anchor="middle"><text x="531" y="550">cWB: SNR=7.6</text><text x="530.5" y="597">LI: SNR=7.4</text><text x="531.5" y="643">whitened data (16:512 Hz)</text></g>
<text x="795" y="68.7" font-size="51.4" font-style="italic" text-anchor="middle">GW151226 - Livingston</text>
<g font-size="47" text-anchor="middle">
<text x="158" y="718">0.2</text>
<text x="414" y="718">0.3</text>
<text x="670" y="718">0.4</text>
<text x="926" y="718">0.5</text>
<text x="1182" y="718">0.6</text>
<text x="1438" y="718">0.7</text>
<text x="794.5" y="776" font-size="45.4">Time-1135136350 (s)</text></g>
<g font-size="47" text-anchor="end">
<text x="139" y="245.9">2</text>
<text x="139" y="405.0">0</text>
<text x="139" y="564.1">−2</text>
</g>
<g transform="translate(66.5,433.5) rotate(-90)"><text x="0" y="0" font-size="48" transform="scale(1.1,1)">σ</text><text x="28.5" y="12" font-size="30.5">noise</text></g>
</svg></body></html>
